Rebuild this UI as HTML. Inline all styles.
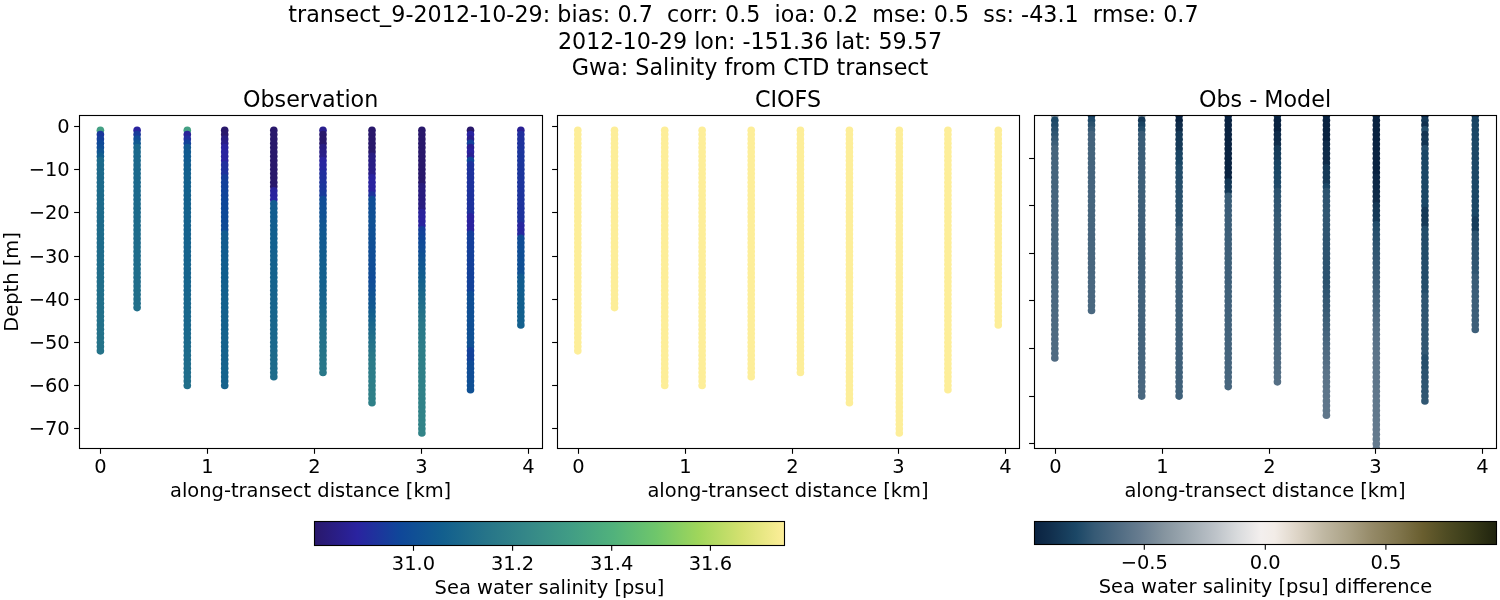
<!DOCTYPE html><html><head><meta charset="utf-8"><title>transect_9-2012-10-29</title>
<style>html,body{margin:0;padding:0;background:#fff}svg{display:block}text{font-family:"DejaVu Sans", "Liberation Sans", sans-serif;fill:#000}</style></head><body>
<svg width="1500" height="600" viewBox="0 0 1500 600">
<rect width="1500" height="600" fill="#fff"/>
<defs>
<clipPath id="c0"><rect x="79.38" y="115.45" width="462.50" height="333.00"/></clipPath>
<clipPath id="c1"><rect x="556.80" y="115.45" width="462.50" height="333.00"/></clipPath>
<clipPath id="c2"><rect x="1033.80" y="115.45" width="462.50" height="333.00"/></clipPath>
<linearGradient id="gh" x1="0" x2="1" y1="0" y2="0">
<stop offset="0.0000" stop-color="#29186b"/>
<stop offset="0.0909" stop-color="#2a23a0"/>
<stop offset="0.1818" stop-color="#0f4799"/>
<stop offset="0.2727" stop-color="#125f8e"/>
<stop offset="0.3636" stop-color="#267489"/>
<stop offset="0.4545" stop-color="#358888"/>
<stop offset="0.5455" stop-color="#419d85"/>
<stop offset="0.6364" stop-color="#51b27c"/>
<stop offset="0.7273" stop-color="#6fc66b"/>
<stop offset="0.8182" stop-color="#a0d65b"/>
<stop offset="0.9091" stop-color="#d4e170"/>
<stop offset="1.0000" stop-color="#fdee99"/>
</linearGradient>
<linearGradient id="gd" x1="0" x2="1" y1="0" y2="0">
<stop offset="0.0000" stop-color="#0a2341"/>
<stop offset="0.0300" stop-color="#102d4b"/>
<stop offset="0.0900" stop-color="#1b4766"/>
<stop offset="0.1300" stop-color="#365a75"/>
<stop offset="0.1800" stop-color="#4f6b82"/>
<stop offset="0.2300" stop-color="#687d90"/>
<stop offset="0.2800" stop-color="#85949f"/>
<stop offset="0.3350" stop-color="#a0abb3"/>
<stop offset="0.3900" stop-color="#bcc2c8"/>
<stop offset="0.4400" stop-color="#d9dbdd"/>
<stop offset="0.4900" stop-color="#f3efee"/>
<stop offset="0.5200" stop-color="#f2ece7"/>
<stop offset="0.5700" stop-color="#ddd4c6"/>
<stop offset="0.6250" stop-color="#c0b8a3"/>
<stop offset="0.6800" stop-color="#aba286"/>
<stop offset="0.7300" stop-color="#958a68"/>
<stop offset="0.7900" stop-color="#7f744b"/>
<stop offset="0.8400" stop-color="#695e2f"/>
<stop offset="0.8900" stop-color="#4f4c23"/>
<stop offset="0.9400" stop-color="#3a3c19"/>
<stop offset="1.0000" stop-color="#1f230e"/>
</linearGradient>
</defs>
<text x="743.40" y="21.90" font-size="22.22" text-anchor="middle" xml:space="preserve" textLength="910.3" lengthAdjust="spacing">transect_9-2012-10-29: bias: 0.7  corr: 0.5  ioa: 0.2  mse: 0.5  ss: -43.1  rmse: 0.7</text>
<text x="750.00" y="48.57" font-size="22.22" text-anchor="middle" xml:space="preserve">2012-10-29 lon: -151.36 lat: 59.57</text>
<text x="750.00" y="75.24" font-size="22.22" text-anchor="middle" xml:space="preserve">Gwa: Salinity from CTD transect</text>
<text x="310.63" y="106.90" font-size="22.22" text-anchor="middle">Observation</text>
<text x="788.05" y="106.90" font-size="22.22" text-anchor="middle">CIOFS</text>
<text x="1265.05" y="106.90" font-size="22.22" text-anchor="middle">Obs - Model</text>
<g clip-path="url(#c0)">
<circle cx="100.40" cy="130.29" r="3.80" fill="#44a084"/>
<circle cx="100.40" cy="134.61" r="3.80" fill="#1b369c"/>
<circle cx="100.40" cy="138.94" r="3.80" fill="#153e9b"/>
<circle cx="100.40" cy="143.26" r="3.80" fill="#0f4998"/>
<circle cx="100.40" cy="147.59" r="3.80" fill="#104e96"/>
<circle cx="100.40" cy="151.91" r="3.80" fill="#115692"/>
<circle cx="100.40" cy="156.23" r="3.80" fill="#125e8e"/>
<circle cx="100.40" cy="160.56" r="3.80" fill="#1c6a8b"/>
<circle cx="100.40" cy="164.88" r="3.80" fill="#1c6a8b"/>
<circle cx="100.40" cy="169.21" r="3.80" fill="#1d6a8b"/>
<circle cx="100.40" cy="173.53" r="3.80" fill="#1d6a8b"/>
<circle cx="100.40" cy="177.86" r="3.80" fill="#1d6a8b"/>
<circle cx="100.40" cy="182.18" r="3.80" fill="#1d6a8b"/>
<circle cx="100.40" cy="186.51" r="3.80" fill="#1d6b8b"/>
<circle cx="100.40" cy="190.83" r="3.80" fill="#1d6b8b"/>
<circle cx="100.40" cy="195.16" r="3.80" fill="#1d6b8b"/>
<circle cx="100.40" cy="199.48" r="3.80" fill="#1d6b8b"/>
<circle cx="100.40" cy="203.81" r="3.80" fill="#1d6b8b"/>
<circle cx="100.40" cy="208.13" r="3.80" fill="#1e6b8b"/>
<circle cx="100.40" cy="212.46" r="3.80" fill="#1e6b8b"/>
<circle cx="100.40" cy="216.78" r="3.80" fill="#1e6b8b"/>
<circle cx="100.40" cy="221.10" r="3.80" fill="#1e6b8b"/>
<circle cx="100.40" cy="225.43" r="3.80" fill="#1e6b8b"/>
<circle cx="100.40" cy="229.75" r="3.80" fill="#1e6c8b"/>
<circle cx="100.40" cy="234.08" r="3.80" fill="#1e6c8b"/>
<circle cx="100.40" cy="238.40" r="3.80" fill="#1e6c8b"/>
<circle cx="100.40" cy="242.73" r="3.80" fill="#1e6c8b"/>
<circle cx="100.40" cy="247.05" r="3.80" fill="#1e6c8b"/>
<circle cx="100.40" cy="251.38" r="3.80" fill="#1f6c8b"/>
<circle cx="100.40" cy="255.70" r="3.80" fill="#1f6c8b"/>
<circle cx="100.40" cy="260.03" r="3.80" fill="#1f6d8b"/>
<circle cx="100.40" cy="264.35" r="3.80" fill="#1f6d8b"/>
<circle cx="100.40" cy="268.68" r="3.80" fill="#206d8b"/>
<circle cx="100.40" cy="273.00" r="3.80" fill="#206d8b"/>
<circle cx="100.40" cy="277.33" r="3.80" fill="#206e8a"/>
<circle cx="100.40" cy="281.65" r="3.80" fill="#206e8a"/>
<circle cx="100.40" cy="285.97" r="3.80" fill="#216e8a"/>
<circle cx="100.40" cy="290.30" r="3.80" fill="#216f8a"/>
<circle cx="100.40" cy="294.62" r="3.80" fill="#216f8a"/>
<circle cx="100.40" cy="298.95" r="3.80" fill="#226f8a"/>
<circle cx="100.40" cy="303.27" r="3.80" fill="#22708a"/>
<circle cx="100.40" cy="307.60" r="3.80" fill="#22708a"/>
<circle cx="100.40" cy="311.92" r="3.80" fill="#22708a"/>
<circle cx="100.40" cy="316.25" r="3.80" fill="#23718a"/>
<circle cx="100.40" cy="320.57" r="3.80" fill="#23718a"/>
<circle cx="100.40" cy="324.90" r="3.80" fill="#23718a"/>
<circle cx="100.40" cy="329.22" r="3.80" fill="#24728a"/>
<circle cx="100.40" cy="333.55" r="3.80" fill="#24728a"/>
<circle cx="100.40" cy="337.87" r="3.80" fill="#247289"/>
<circle cx="100.40" cy="342.20" r="3.80" fill="#257389"/>
<circle cx="100.40" cy="346.52" r="3.80" fill="#257389"/>
<circle cx="100.40" cy="350.84" r="3.80" fill="#257389"/>
<circle cx="137.10" cy="130.29" r="3.80" fill="#2a239f"/>
<circle cx="137.10" cy="134.61" r="3.80" fill="#183a9b"/>
<circle cx="137.10" cy="138.94" r="3.80" fill="#104c97"/>
<circle cx="137.10" cy="143.26" r="3.80" fill="#115991"/>
<circle cx="137.10" cy="147.59" r="3.80" fill="#1a688c"/>
<circle cx="137.10" cy="151.91" r="3.80" fill="#1a688c"/>
<circle cx="137.10" cy="156.23" r="3.80" fill="#1a688c"/>
<circle cx="137.10" cy="160.56" r="3.80" fill="#1b688c"/>
<circle cx="137.10" cy="164.88" r="3.80" fill="#1b688c"/>
<circle cx="137.10" cy="169.21" r="3.80" fill="#1b688c"/>
<circle cx="137.10" cy="173.53" r="3.80" fill="#1b698c"/>
<circle cx="137.10" cy="177.86" r="3.80" fill="#1b698c"/>
<circle cx="137.10" cy="182.18" r="3.80" fill="#1b698c"/>
<circle cx="137.10" cy="186.51" r="3.80" fill="#1c698c"/>
<circle cx="137.10" cy="190.83" r="3.80" fill="#1c698c"/>
<circle cx="137.10" cy="195.16" r="3.80" fill="#1c698c"/>
<circle cx="137.10" cy="199.48" r="3.80" fill="#1c698c"/>
<circle cx="137.10" cy="203.81" r="3.80" fill="#1c6a8b"/>
<circle cx="137.10" cy="208.13" r="3.80" fill="#1c6a8b"/>
<circle cx="137.10" cy="212.46" r="3.80" fill="#1c6a8b"/>
<circle cx="137.10" cy="216.78" r="3.80" fill="#1d6a8b"/>
<circle cx="137.10" cy="221.10" r="3.80" fill="#1d6a8b"/>
<circle cx="137.10" cy="225.43" r="3.80" fill="#1d6b8b"/>
<circle cx="137.10" cy="229.75" r="3.80" fill="#1d6b8b"/>
<circle cx="137.10" cy="234.08" r="3.80" fill="#1d6b8b"/>
<circle cx="137.10" cy="238.40" r="3.80" fill="#1e6b8b"/>
<circle cx="137.10" cy="242.73" r="3.80" fill="#1e6b8b"/>
<circle cx="137.10" cy="247.05" r="3.80" fill="#1e6c8b"/>
<circle cx="137.10" cy="251.38" r="3.80" fill="#1e6c8b"/>
<circle cx="137.10" cy="255.70" r="3.80" fill="#1e6c8b"/>
<circle cx="137.10" cy="260.03" r="3.80" fill="#1f6c8b"/>
<circle cx="137.10" cy="264.35" r="3.80" fill="#1f6c8b"/>
<circle cx="137.10" cy="268.68" r="3.80" fill="#1f6d8b"/>
<circle cx="137.10" cy="273.00" r="3.80" fill="#1f6d8b"/>
<circle cx="137.10" cy="277.33" r="3.80" fill="#1f6d8b"/>
<circle cx="137.10" cy="281.65" r="3.80" fill="#206d8b"/>
<circle cx="137.10" cy="285.97" r="3.80" fill="#206d8b"/>
<circle cx="137.10" cy="290.30" r="3.80" fill="#206e8a"/>
<circle cx="137.10" cy="294.62" r="3.80" fill="#206e8a"/>
<circle cx="137.10" cy="298.95" r="3.80" fill="#206e8a"/>
<circle cx="137.10" cy="303.27" r="3.80" fill="#216e8a"/>
<circle cx="137.10" cy="307.60" r="3.80" fill="#216f8a"/>
<circle cx="187.30" cy="130.29" r="3.80" fill="#44a084"/>
<circle cx="187.30" cy="134.61" r="3.80" fill="#2a229a"/>
<circle cx="187.30" cy="138.94" r="3.80" fill="#212f9e"/>
<circle cx="187.30" cy="143.26" r="3.80" fill="#13429a"/>
<circle cx="187.30" cy="147.59" r="3.80" fill="#115991"/>
<circle cx="187.30" cy="151.91" r="3.80" fill="#115a90"/>
<circle cx="187.30" cy="156.23" r="3.80" fill="#115b90"/>
<circle cx="187.30" cy="160.56" r="3.80" fill="#125c90"/>
<circle cx="187.30" cy="164.88" r="3.80" fill="#125d8f"/>
<circle cx="187.30" cy="169.21" r="3.80" fill="#125e8e"/>
<circle cx="187.30" cy="173.53" r="3.80" fill="#13608e"/>
<circle cx="187.30" cy="177.86" r="3.80" fill="#14618e"/>
<circle cx="187.30" cy="182.18" r="3.80" fill="#14618e"/>
<circle cx="187.30" cy="186.51" r="3.80" fill="#14618e"/>
<circle cx="187.30" cy="190.83" r="3.80" fill="#14618e"/>
<circle cx="187.30" cy="195.16" r="3.80" fill="#14618d"/>
<circle cx="187.30" cy="199.48" r="3.80" fill="#14618d"/>
<circle cx="187.30" cy="203.81" r="3.80" fill="#14618d"/>
<circle cx="187.30" cy="208.13" r="3.80" fill="#14628d"/>
<circle cx="187.30" cy="212.46" r="3.80" fill="#15628d"/>
<circle cx="187.30" cy="216.78" r="3.80" fill="#15628d"/>
<circle cx="187.30" cy="221.10" r="3.80" fill="#15628d"/>
<circle cx="187.30" cy="225.43" r="3.80" fill="#15628d"/>
<circle cx="187.30" cy="229.75" r="3.80" fill="#15628d"/>
<circle cx="187.30" cy="234.08" r="3.80" fill="#15628d"/>
<circle cx="187.30" cy="238.40" r="3.80" fill="#15628d"/>
<circle cx="187.30" cy="242.73" r="3.80" fill="#15638d"/>
<circle cx="187.30" cy="247.05" r="3.80" fill="#16638d"/>
<circle cx="187.30" cy="251.38" r="3.80" fill="#16638d"/>
<circle cx="187.30" cy="255.70" r="3.80" fill="#16638d"/>
<circle cx="187.30" cy="260.03" r="3.80" fill="#16638d"/>
<circle cx="187.30" cy="264.35" r="3.80" fill="#16648d"/>
<circle cx="187.30" cy="268.68" r="3.80" fill="#17648d"/>
<circle cx="187.30" cy="273.00" r="3.80" fill="#17648d"/>
<circle cx="187.30" cy="277.33" r="3.80" fill="#17648d"/>
<circle cx="187.30" cy="281.65" r="3.80" fill="#17658d"/>
<circle cx="187.30" cy="285.97" r="3.80" fill="#18658d"/>
<circle cx="187.30" cy="290.30" r="3.80" fill="#18658d"/>
<circle cx="187.30" cy="294.62" r="3.80" fill="#18658c"/>
<circle cx="187.30" cy="298.95" r="3.80" fill="#18668c"/>
<circle cx="187.30" cy="303.27" r="3.80" fill="#19668c"/>
<circle cx="187.30" cy="307.60" r="3.80" fill="#19668c"/>
<circle cx="187.30" cy="311.92" r="3.80" fill="#19678c"/>
<circle cx="187.30" cy="316.25" r="3.80" fill="#19678c"/>
<circle cx="187.30" cy="320.57" r="3.80" fill="#1a678c"/>
<circle cx="187.30" cy="324.90" r="3.80" fill="#1a678c"/>
<circle cx="187.30" cy="329.22" r="3.80" fill="#1a688c"/>
<circle cx="187.30" cy="333.55" r="3.80" fill="#1b688c"/>
<circle cx="187.30" cy="337.87" r="3.80" fill="#1b698c"/>
<circle cx="187.30" cy="342.20" r="3.80" fill="#1c698c"/>
<circle cx="187.30" cy="346.52" r="3.80" fill="#1c6a8b"/>
<circle cx="187.30" cy="350.84" r="3.80" fill="#1d6a8b"/>
<circle cx="187.30" cy="355.17" r="3.80" fill="#1d6b8b"/>
<circle cx="187.30" cy="359.49" r="3.80" fill="#1e6b8b"/>
<circle cx="187.30" cy="363.82" r="3.80" fill="#1e6c8b"/>
<circle cx="187.30" cy="368.14" r="3.80" fill="#1f6c8b"/>
<circle cx="187.30" cy="372.47" r="3.80" fill="#1f6d8b"/>
<circle cx="187.30" cy="376.79" r="3.80" fill="#206d8b"/>
<circle cx="187.30" cy="381.12" r="3.80" fill="#206e8a"/>
<circle cx="187.30" cy="385.44" r="3.80" fill="#216f8a"/>
<circle cx="224.70" cy="130.29" r="3.80" fill="#29186b"/>
<circle cx="224.70" cy="134.61" r="3.80" fill="#29186b"/>
<circle cx="224.70" cy="138.94" r="3.80" fill="#291d82"/>
<circle cx="224.70" cy="143.26" r="3.80" fill="#2a1e88"/>
<circle cx="224.70" cy="147.59" r="3.80" fill="#2a239f"/>
<circle cx="224.70" cy="151.91" r="3.80" fill="#2a239f"/>
<circle cx="224.70" cy="156.23" r="3.80" fill="#2a239f"/>
<circle cx="224.70" cy="160.56" r="3.80" fill="#2a239f"/>
<circle cx="224.70" cy="164.88" r="3.80" fill="#212f9e"/>
<circle cx="224.70" cy="169.21" r="3.80" fill="#20309d"/>
<circle cx="224.70" cy="173.53" r="3.80" fill="#1e329d"/>
<circle cx="224.70" cy="177.86" r="3.80" fill="#153e9b"/>
<circle cx="224.70" cy="182.18" r="3.80" fill="#14409a"/>
<circle cx="224.70" cy="186.51" r="3.80" fill="#13419a"/>
<circle cx="224.70" cy="190.83" r="3.80" fill="#12439a"/>
<circle cx="224.70" cy="195.16" r="3.80" fill="#11449a"/>
<circle cx="224.70" cy="199.48" r="3.80" fill="#104699"/>
<circle cx="224.70" cy="203.81" r="3.80" fill="#0f4799"/>
<circle cx="224.70" cy="208.13" r="3.80" fill="#0f4898"/>
<circle cx="224.70" cy="212.46" r="3.80" fill="#0f4998"/>
<circle cx="224.70" cy="216.78" r="3.80" fill="#0f4a98"/>
<circle cx="224.70" cy="221.10" r="3.80" fill="#0f4a97"/>
<circle cx="224.70" cy="225.43" r="3.80" fill="#104b97"/>
<circle cx="224.70" cy="229.75" r="3.80" fill="#104c97"/>
<circle cx="224.70" cy="234.08" r="3.80" fill="#125c90"/>
<circle cx="224.70" cy="238.40" r="3.80" fill="#125c8f"/>
<circle cx="224.70" cy="242.73" r="3.80" fill="#125c8f"/>
<circle cx="224.70" cy="247.05" r="3.80" fill="#125d8f"/>
<circle cx="224.70" cy="251.38" r="3.80" fill="#125d8f"/>
<circle cx="224.70" cy="255.70" r="3.80" fill="#125d8f"/>
<circle cx="224.70" cy="260.03" r="3.80" fill="#125e8f"/>
<circle cx="224.70" cy="264.35" r="3.80" fill="#125e8e"/>
<circle cx="224.70" cy="268.68" r="3.80" fill="#125e8e"/>
<circle cx="224.70" cy="273.00" r="3.80" fill="#125f8e"/>
<circle cx="224.70" cy="277.33" r="3.80" fill="#125f8e"/>
<circle cx="224.70" cy="281.65" r="3.80" fill="#125f8e"/>
<circle cx="224.70" cy="285.97" r="3.80" fill="#13608e"/>
<circle cx="224.70" cy="290.30" r="3.80" fill="#13608e"/>
<circle cx="224.70" cy="294.62" r="3.80" fill="#13608e"/>
<circle cx="224.70" cy="298.95" r="3.80" fill="#14618e"/>
<circle cx="224.70" cy="303.27" r="3.80" fill="#14618e"/>
<circle cx="224.70" cy="307.60" r="3.80" fill="#14618e"/>
<circle cx="224.70" cy="311.92" r="3.80" fill="#14618e"/>
<circle cx="224.70" cy="316.25" r="3.80" fill="#14618d"/>
<circle cx="224.70" cy="320.57" r="3.80" fill="#14618d"/>
<circle cx="224.70" cy="324.90" r="3.80" fill="#14618d"/>
<circle cx="224.70" cy="329.22" r="3.80" fill="#14618d"/>
<circle cx="224.70" cy="333.55" r="3.80" fill="#14628d"/>
<circle cx="224.70" cy="337.87" r="3.80" fill="#15628d"/>
<circle cx="224.70" cy="342.20" r="3.80" fill="#15628d"/>
<circle cx="224.70" cy="346.52" r="3.80" fill="#15628d"/>
<circle cx="224.70" cy="350.84" r="3.80" fill="#15628d"/>
<circle cx="224.70" cy="355.17" r="3.80" fill="#15628d"/>
<circle cx="224.70" cy="359.49" r="3.80" fill="#15628d"/>
<circle cx="224.70" cy="363.82" r="3.80" fill="#15628d"/>
<circle cx="224.70" cy="368.14" r="3.80" fill="#15638d"/>
<circle cx="224.70" cy="372.47" r="3.80" fill="#15638d"/>
<circle cx="224.70" cy="376.79" r="3.80" fill="#16638d"/>
<circle cx="224.70" cy="381.12" r="3.80" fill="#16638d"/>
<circle cx="224.70" cy="385.44" r="3.80" fill="#16638d"/>
<circle cx="273.80" cy="130.29" r="3.80" fill="#29186b"/>
<circle cx="273.80" cy="134.61" r="3.80" fill="#29186b"/>
<circle cx="273.80" cy="138.94" r="3.80" fill="#29186b"/>
<circle cx="273.80" cy="143.26" r="3.80" fill="#29186b"/>
<circle cx="273.80" cy="147.59" r="3.80" fill="#29186b"/>
<circle cx="273.80" cy="151.91" r="3.80" fill="#29186b"/>
<circle cx="273.80" cy="156.23" r="3.80" fill="#29186b"/>
<circle cx="273.80" cy="160.56" r="3.80" fill="#29186b"/>
<circle cx="273.80" cy="164.88" r="3.80" fill="#29186b"/>
<circle cx="273.80" cy="169.21" r="3.80" fill="#29186b"/>
<circle cx="273.80" cy="173.53" r="3.80" fill="#29186b"/>
<circle cx="273.80" cy="177.86" r="3.80" fill="#29186b"/>
<circle cx="273.80" cy="182.18" r="3.80" fill="#29186b"/>
<circle cx="273.80" cy="186.51" r="3.80" fill="#29186b"/>
<circle cx="273.80" cy="190.83" r="3.80" fill="#2a229a"/>
<circle cx="273.80" cy="195.16" r="3.80" fill="#2a229d"/>
<circle cx="273.80" cy="199.48" r="3.80" fill="#2a239f"/>
<circle cx="273.80" cy="203.81" r="3.80" fill="#125c90"/>
<circle cx="273.80" cy="208.13" r="3.80" fill="#125c8f"/>
<circle cx="273.80" cy="212.46" r="3.80" fill="#125d8f"/>
<circle cx="273.80" cy="216.78" r="3.80" fill="#125d8f"/>
<circle cx="273.80" cy="221.10" r="3.80" fill="#125d8f"/>
<circle cx="273.80" cy="225.43" r="3.80" fill="#125e8f"/>
<circle cx="273.80" cy="229.75" r="3.80" fill="#125e8e"/>
<circle cx="273.80" cy="234.08" r="3.80" fill="#125f8e"/>
<circle cx="273.80" cy="238.40" r="3.80" fill="#125f8e"/>
<circle cx="273.80" cy="242.73" r="3.80" fill="#13608e"/>
<circle cx="273.80" cy="247.05" r="3.80" fill="#13608e"/>
<circle cx="273.80" cy="251.38" r="3.80" fill="#13608e"/>
<circle cx="273.80" cy="255.70" r="3.80" fill="#14618e"/>
<circle cx="273.80" cy="260.03" r="3.80" fill="#14618e"/>
<circle cx="273.80" cy="264.35" r="3.80" fill="#14618d"/>
<circle cx="273.80" cy="268.68" r="3.80" fill="#14628d"/>
<circle cx="273.80" cy="273.00" r="3.80" fill="#15628d"/>
<circle cx="273.80" cy="277.33" r="3.80" fill="#15628d"/>
<circle cx="273.80" cy="281.65" r="3.80" fill="#15638d"/>
<circle cx="273.80" cy="285.97" r="3.80" fill="#16638d"/>
<circle cx="273.80" cy="290.30" r="3.80" fill="#16638d"/>
<circle cx="273.80" cy="294.62" r="3.80" fill="#16638d"/>
<circle cx="273.80" cy="298.95" r="3.80" fill="#17648d"/>
<circle cx="273.80" cy="303.27" r="3.80" fill="#17648d"/>
<circle cx="273.80" cy="307.60" r="3.80" fill="#17648d"/>
<circle cx="273.80" cy="311.92" r="3.80" fill="#17658d"/>
<circle cx="273.80" cy="316.25" r="3.80" fill="#18658d"/>
<circle cx="273.80" cy="320.57" r="3.80" fill="#18658c"/>
<circle cx="273.80" cy="324.90" r="3.80" fill="#19668c"/>
<circle cx="273.80" cy="329.22" r="3.80" fill="#19668c"/>
<circle cx="273.80" cy="333.55" r="3.80" fill="#1a678c"/>
<circle cx="273.80" cy="337.87" r="3.80" fill="#1a678c"/>
<circle cx="273.80" cy="342.20" r="3.80" fill="#1b688c"/>
<circle cx="273.80" cy="346.52" r="3.80" fill="#1b688c"/>
<circle cx="273.80" cy="350.84" r="3.80" fill="#1c698c"/>
<circle cx="273.80" cy="355.17" r="3.80" fill="#1c6a8b"/>
<circle cx="273.80" cy="359.49" r="3.80" fill="#1d6a8b"/>
<circle cx="273.80" cy="363.82" r="3.80" fill="#1d6b8b"/>
<circle cx="273.80" cy="368.14" r="3.80" fill="#1e6b8b"/>
<circle cx="273.80" cy="372.47" r="3.80" fill="#1e6c8b"/>
<circle cx="273.80" cy="376.79" r="3.80" fill="#1f6c8b"/>
<circle cx="323.00" cy="130.29" r="3.80" fill="#2a1f8e"/>
<circle cx="323.00" cy="134.61" r="3.80" fill="#29186b"/>
<circle cx="323.00" cy="138.94" r="3.80" fill="#29186b"/>
<circle cx="323.00" cy="143.26" r="3.80" fill="#29186b"/>
<circle cx="323.00" cy="147.59" r="3.80" fill="#291d82"/>
<circle cx="323.00" cy="151.91" r="3.80" fill="#291d85"/>
<circle cx="323.00" cy="156.23" r="3.80" fill="#2a1e88"/>
<circle cx="323.00" cy="160.56" r="3.80" fill="#2a239f"/>
<circle cx="323.00" cy="164.88" r="3.80" fill="#2925a0"/>
<circle cx="323.00" cy="169.21" r="3.80" fill="#27279f"/>
<circle cx="323.00" cy="173.53" r="3.80" fill="#212f9e"/>
<circle cx="323.00" cy="177.86" r="3.80" fill="#20319d"/>
<circle cx="323.00" cy="182.18" r="3.80" fill="#1e339d"/>
<circle cx="323.00" cy="186.51" r="3.80" fill="#1c369c"/>
<circle cx="323.00" cy="190.83" r="3.80" fill="#1a389c"/>
<circle cx="323.00" cy="195.16" r="3.80" fill="#183a9b"/>
<circle cx="323.00" cy="199.48" r="3.80" fill="#104c97"/>
<circle cx="323.00" cy="203.81" r="3.80" fill="#104d96"/>
<circle cx="323.00" cy="208.13" r="3.80" fill="#104f95"/>
<circle cx="323.00" cy="212.46" r="3.80" fill="#105195"/>
<circle cx="323.00" cy="216.78" r="3.80" fill="#105294"/>
<circle cx="323.00" cy="221.10" r="3.80" fill="#115493"/>
<circle cx="323.00" cy="225.43" r="3.80" fill="#115692"/>
<circle cx="323.00" cy="229.75" r="3.80" fill="#115792"/>
<circle cx="323.00" cy="234.08" r="3.80" fill="#115991"/>
<circle cx="323.00" cy="238.40" r="3.80" fill="#115a90"/>
<circle cx="323.00" cy="242.73" r="3.80" fill="#115a90"/>
<circle cx="323.00" cy="247.05" r="3.80" fill="#125b90"/>
<circle cx="323.00" cy="251.38" r="3.80" fill="#125c8f"/>
<circle cx="323.00" cy="255.70" r="3.80" fill="#125d8f"/>
<circle cx="323.00" cy="260.03" r="3.80" fill="#125d8f"/>
<circle cx="323.00" cy="264.35" r="3.80" fill="#125e8e"/>
<circle cx="323.00" cy="268.68" r="3.80" fill="#125f8e"/>
<circle cx="323.00" cy="273.00" r="3.80" fill="#125f8e"/>
<circle cx="323.00" cy="277.33" r="3.80" fill="#13608e"/>
<circle cx="323.00" cy="281.65" r="3.80" fill="#13618e"/>
<circle cx="323.00" cy="285.97" r="3.80" fill="#14618d"/>
<circle cx="323.00" cy="290.30" r="3.80" fill="#15628d"/>
<circle cx="323.00" cy="294.62" r="3.80" fill="#15628d"/>
<circle cx="323.00" cy="298.95" r="3.80" fill="#16638d"/>
<circle cx="323.00" cy="303.27" r="3.80" fill="#18658d"/>
<circle cx="323.00" cy="307.60" r="3.80" fill="#19678c"/>
<circle cx="323.00" cy="311.92" r="3.80" fill="#1b698c"/>
<circle cx="323.00" cy="316.25" r="3.80" fill="#1d6a8b"/>
<circle cx="323.00" cy="320.57" r="3.80" fill="#1f6c8b"/>
<circle cx="323.00" cy="324.90" r="3.80" fill="#206d8b"/>
<circle cx="323.00" cy="329.22" r="3.80" fill="#206e8a"/>
<circle cx="323.00" cy="333.55" r="3.80" fill="#216f8a"/>
<circle cx="323.00" cy="337.87" r="3.80" fill="#22708a"/>
<circle cx="323.00" cy="342.20" r="3.80" fill="#23718a"/>
<circle cx="323.00" cy="346.52" r="3.80" fill="#247289"/>
<circle cx="323.00" cy="350.84" r="3.80" fill="#257389"/>
<circle cx="323.00" cy="355.17" r="3.80" fill="#267489"/>
<circle cx="323.00" cy="359.49" r="3.80" fill="#277589"/>
<circle cx="323.00" cy="363.82" r="3.80" fill="#277689"/>
<circle cx="323.00" cy="368.14" r="3.80" fill="#287789"/>
<circle cx="323.00" cy="372.47" r="3.80" fill="#297889"/>
<circle cx="372.00" cy="130.29" r="3.80" fill="#29186b"/>
<circle cx="372.00" cy="134.61" r="3.80" fill="#29186b"/>
<circle cx="372.00" cy="138.94" r="3.80" fill="#29186b"/>
<circle cx="372.00" cy="143.26" r="3.80" fill="#29186b"/>
<circle cx="372.00" cy="147.59" r="3.80" fill="#29186b"/>
<circle cx="372.00" cy="151.91" r="3.80" fill="#29186b"/>
<circle cx="372.00" cy="156.23" r="3.80" fill="#291d82"/>
<circle cx="372.00" cy="160.56" r="3.80" fill="#291d84"/>
<circle cx="372.00" cy="164.88" r="3.80" fill="#291d85"/>
<circle cx="372.00" cy="169.21" r="3.80" fill="#2a1e87"/>
<circle cx="372.00" cy="173.53" r="3.80" fill="#2a1e88"/>
<circle cx="372.00" cy="177.86" r="3.80" fill="#2a239f"/>
<circle cx="372.00" cy="182.18" r="3.80" fill="#2a239f"/>
<circle cx="372.00" cy="186.51" r="3.80" fill="#2a239f"/>
<circle cx="372.00" cy="190.83" r="3.80" fill="#2a239f"/>
<circle cx="372.00" cy="195.16" r="3.80" fill="#1e329d"/>
<circle cx="372.00" cy="199.48" r="3.80" fill="#104c97"/>
<circle cx="372.00" cy="203.81" r="3.80" fill="#104d96"/>
<circle cx="372.00" cy="208.13" r="3.80" fill="#104e96"/>
<circle cx="372.00" cy="212.46" r="3.80" fill="#104f95"/>
<circle cx="372.00" cy="216.78" r="3.80" fill="#105095"/>
<circle cx="372.00" cy="221.10" r="3.80" fill="#105194"/>
<circle cx="372.00" cy="225.43" r="3.80" fill="#105195"/>
<circle cx="372.00" cy="229.75" r="3.80" fill="#105095"/>
<circle cx="372.00" cy="234.08" r="3.80" fill="#105095"/>
<circle cx="372.00" cy="238.40" r="3.80" fill="#105095"/>
<circle cx="372.00" cy="242.73" r="3.80" fill="#104f95"/>
<circle cx="372.00" cy="247.05" r="3.80" fill="#104f95"/>
<circle cx="372.00" cy="251.38" r="3.80" fill="#104e96"/>
<circle cx="372.00" cy="255.70" r="3.80" fill="#104e96"/>
<circle cx="372.00" cy="260.03" r="3.80" fill="#104e96"/>
<circle cx="372.00" cy="264.35" r="3.80" fill="#104d96"/>
<circle cx="372.00" cy="268.68" r="3.80" fill="#104d96"/>
<circle cx="372.00" cy="273.00" r="3.80" fill="#104d96"/>
<circle cx="372.00" cy="277.33" r="3.80" fill="#104c97"/>
<circle cx="372.00" cy="281.65" r="3.80" fill="#104c97"/>
<circle cx="372.00" cy="285.97" r="3.80" fill="#104e96"/>
<circle cx="372.00" cy="290.30" r="3.80" fill="#105095"/>
<circle cx="372.00" cy="294.62" r="3.80" fill="#105294"/>
<circle cx="372.00" cy="298.95" r="3.80" fill="#115593"/>
<circle cx="372.00" cy="303.27" r="3.80" fill="#115792"/>
<circle cx="372.00" cy="307.60" r="3.80" fill="#115991"/>
<circle cx="372.00" cy="311.92" r="3.80" fill="#125d8f"/>
<circle cx="372.00" cy="316.25" r="3.80" fill="#13608e"/>
<circle cx="372.00" cy="320.57" r="3.80" fill="#16638d"/>
<circle cx="372.00" cy="324.90" r="3.80" fill="#19668c"/>
<circle cx="372.00" cy="329.22" r="3.80" fill="#1c698c"/>
<circle cx="372.00" cy="333.55" r="3.80" fill="#1f6c8b"/>
<circle cx="372.00" cy="337.87" r="3.80" fill="#216f8a"/>
<circle cx="372.00" cy="342.20" r="3.80" fill="#23718a"/>
<circle cx="372.00" cy="346.52" r="3.80" fill="#257389"/>
<circle cx="372.00" cy="350.84" r="3.80" fill="#277589"/>
<circle cx="372.00" cy="355.17" r="3.80" fill="#297889"/>
<circle cx="372.00" cy="359.49" r="3.80" fill="#2a7a89"/>
<circle cx="372.00" cy="363.82" r="3.80" fill="#2c7c89"/>
<circle cx="372.00" cy="368.14" r="3.80" fill="#2c7c89"/>
<circle cx="372.00" cy="372.47" r="3.80" fill="#2d7d89"/>
<circle cx="372.00" cy="376.79" r="3.80" fill="#2d7d89"/>
<circle cx="372.00" cy="381.12" r="3.80" fill="#2d7e89"/>
<circle cx="372.00" cy="385.44" r="3.80" fill="#2e7e88"/>
<circle cx="372.00" cy="389.77" r="3.80" fill="#2e7f88"/>
<circle cx="372.00" cy="394.09" r="3.80" fill="#2f7f88"/>
<circle cx="372.00" cy="398.42" r="3.80" fill="#2f8088"/>
<circle cx="372.00" cy="402.74" r="3.80" fill="#2f8088"/>
<circle cx="421.89" cy="130.29" r="3.80" fill="#29186b"/>
<circle cx="421.89" cy="134.61" r="3.80" fill="#29186b"/>
<circle cx="421.89" cy="138.94" r="3.80" fill="#29186b"/>
<circle cx="421.89" cy="143.26" r="3.80" fill="#29186b"/>
<circle cx="421.89" cy="147.59" r="3.80" fill="#29186b"/>
<circle cx="421.89" cy="151.91" r="3.80" fill="#29186b"/>
<circle cx="421.89" cy="156.23" r="3.80" fill="#29186b"/>
<circle cx="421.89" cy="160.56" r="3.80" fill="#29186b"/>
<circle cx="421.89" cy="164.88" r="3.80" fill="#29186b"/>
<circle cx="421.89" cy="169.21" r="3.80" fill="#29186b"/>
<circle cx="421.89" cy="173.53" r="3.80" fill="#29186b"/>
<circle cx="421.89" cy="177.86" r="3.80" fill="#29186b"/>
<circle cx="421.89" cy="182.18" r="3.80" fill="#29186b"/>
<circle cx="421.89" cy="186.51" r="3.80" fill="#291c7c"/>
<circle cx="421.89" cy="190.83" r="3.80" fill="#291c7e"/>
<circle cx="421.89" cy="195.16" r="3.80" fill="#291c7f"/>
<circle cx="421.89" cy="199.48" r="3.80" fill="#291c80"/>
<circle cx="421.89" cy="203.81" r="3.80" fill="#291d81"/>
<circle cx="421.89" cy="208.13" r="3.80" fill="#291d82"/>
<circle cx="421.89" cy="212.46" r="3.80" fill="#2a229a"/>
<circle cx="421.89" cy="216.78" r="3.80" fill="#2a229c"/>
<circle cx="421.89" cy="221.10" r="3.80" fill="#2a229e"/>
<circle cx="421.89" cy="225.43" r="3.80" fill="#2a239f"/>
<circle cx="421.89" cy="229.75" r="3.80" fill="#153e9b"/>
<circle cx="421.89" cy="234.08" r="3.80" fill="#13429a"/>
<circle cx="421.89" cy="238.40" r="3.80" fill="#104699"/>
<circle cx="421.89" cy="242.73" r="3.80" fill="#0f4998"/>
<circle cx="421.89" cy="247.05" r="3.80" fill="#104c97"/>
<circle cx="421.89" cy="251.38" r="3.80" fill="#104e96"/>
<circle cx="421.89" cy="255.70" r="3.80" fill="#105194"/>
<circle cx="421.89" cy="260.03" r="3.80" fill="#115493"/>
<circle cx="421.89" cy="264.35" r="3.80" fill="#115692"/>
<circle cx="421.89" cy="268.68" r="3.80" fill="#115991"/>
<circle cx="421.89" cy="273.00" r="3.80" fill="#125c90"/>
<circle cx="421.89" cy="277.33" r="3.80" fill="#125e8e"/>
<circle cx="421.89" cy="281.65" r="3.80" fill="#14618e"/>
<circle cx="421.89" cy="285.97" r="3.80" fill="#16638d"/>
<circle cx="421.89" cy="290.30" r="3.80" fill="#18658c"/>
<circle cx="421.89" cy="294.62" r="3.80" fill="#1a688c"/>
<circle cx="421.89" cy="298.95" r="3.80" fill="#1c6a8b"/>
<circle cx="421.89" cy="303.27" r="3.80" fill="#1f6c8b"/>
<circle cx="421.89" cy="307.60" r="3.80" fill="#216f8a"/>
<circle cx="421.89" cy="311.92" r="3.80" fill="#23718a"/>
<circle cx="421.89" cy="316.25" r="3.80" fill="#257389"/>
<circle cx="421.89" cy="320.57" r="3.80" fill="#277589"/>
<circle cx="421.89" cy="324.90" r="3.80" fill="#297889"/>
<circle cx="421.89" cy="329.22" r="3.80" fill="#2a7989"/>
<circle cx="421.89" cy="333.55" r="3.80" fill="#2a7a89"/>
<circle cx="421.89" cy="337.87" r="3.80" fill="#2b7b89"/>
<circle cx="421.89" cy="342.20" r="3.80" fill="#2c7c89"/>
<circle cx="421.89" cy="346.52" r="3.80" fill="#2d7d89"/>
<circle cx="421.89" cy="350.84" r="3.80" fill="#2e7e88"/>
<circle cx="421.89" cy="355.17" r="3.80" fill="#2e7e88"/>
<circle cx="421.89" cy="359.49" r="3.80" fill="#2e7f88"/>
<circle cx="421.89" cy="363.82" r="3.80" fill="#2e7f88"/>
<circle cx="421.89" cy="368.14" r="3.80" fill="#2f7f88"/>
<circle cx="421.89" cy="372.47" r="3.80" fill="#2f8088"/>
<circle cx="421.89" cy="376.79" r="3.80" fill="#2f8088"/>
<circle cx="421.89" cy="381.12" r="3.80" fill="#2f8088"/>
<circle cx="421.89" cy="385.44" r="3.80" fill="#2f8188"/>
<circle cx="421.89" cy="389.77" r="3.80" fill="#308188"/>
<circle cx="421.89" cy="394.09" r="3.80" fill="#308188"/>
<circle cx="421.89" cy="398.42" r="3.80" fill="#308188"/>
<circle cx="421.89" cy="402.74" r="3.80" fill="#308288"/>
<circle cx="421.89" cy="407.07" r="3.80" fill="#308288"/>
<circle cx="421.89" cy="411.39" r="3.80" fill="#318288"/>
<circle cx="421.89" cy="415.71" r="3.80" fill="#318388"/>
<circle cx="421.89" cy="420.04" r="3.80" fill="#318388"/>
<circle cx="421.89" cy="424.36" r="3.80" fill="#318388"/>
<circle cx="421.89" cy="428.69" r="3.80" fill="#328388"/>
<circle cx="421.89" cy="433.01" r="3.80" fill="#328488"/>
<circle cx="470.50" cy="130.29" r="3.80" fill="#29186b"/>
<circle cx="470.50" cy="134.61" r="3.80" fill="#2a239f"/>
<circle cx="470.50" cy="138.94" r="3.80" fill="#2a1f8e"/>
<circle cx="470.50" cy="143.26" r="3.80" fill="#13429a"/>
<circle cx="470.50" cy="147.59" r="3.80" fill="#2a2094"/>
<circle cx="470.50" cy="151.91" r="3.80" fill="#2a239f"/>
<circle cx="470.50" cy="156.23" r="3.80" fill="#2a2094"/>
<circle cx="470.50" cy="160.56" r="3.80" fill="#104699"/>
<circle cx="470.50" cy="164.88" r="3.80" fill="#1e329d"/>
<circle cx="470.50" cy="169.21" r="3.80" fill="#1e329d"/>
<circle cx="470.50" cy="173.53" r="3.80" fill="#1e329d"/>
<circle cx="470.50" cy="177.86" r="3.80" fill="#1e329d"/>
<circle cx="470.50" cy="182.18" r="3.80" fill="#1e329d"/>
<circle cx="470.50" cy="186.51" r="3.80" fill="#1e329d"/>
<circle cx="470.50" cy="190.83" r="3.80" fill="#1e329d"/>
<circle cx="470.50" cy="195.16" r="3.80" fill="#1e329d"/>
<circle cx="470.50" cy="199.48" r="3.80" fill="#1e329d"/>
<circle cx="470.50" cy="203.81" r="3.80" fill="#1e329d"/>
<circle cx="470.50" cy="208.13" r="3.80" fill="#1e329d"/>
<circle cx="470.50" cy="212.46" r="3.80" fill="#1e329d"/>
<circle cx="470.50" cy="216.78" r="3.80" fill="#2a239f"/>
<circle cx="470.50" cy="221.10" r="3.80" fill="#2a239f"/>
<circle cx="470.50" cy="225.43" r="3.80" fill="#2a239f"/>
<circle cx="470.50" cy="229.75" r="3.80" fill="#2a239f"/>
<circle cx="470.50" cy="234.08" r="3.80" fill="#153e9b"/>
<circle cx="470.50" cy="238.40" r="3.80" fill="#153f9b"/>
<circle cx="470.50" cy="242.73" r="3.80" fill="#153f9b"/>
<circle cx="470.50" cy="247.05" r="3.80" fill="#153f9b"/>
<circle cx="470.50" cy="251.38" r="3.80" fill="#15409a"/>
<circle cx="470.50" cy="255.70" r="3.80" fill="#14409a"/>
<circle cx="470.50" cy="260.03" r="3.80" fill="#14409a"/>
<circle cx="470.50" cy="264.35" r="3.80" fill="#14409a"/>
<circle cx="470.50" cy="268.68" r="3.80" fill="#14419a"/>
<circle cx="470.50" cy="273.00" r="3.80" fill="#13419a"/>
<circle cx="470.50" cy="277.33" r="3.80" fill="#13419a"/>
<circle cx="470.50" cy="281.65" r="3.80" fill="#13429a"/>
<circle cx="470.50" cy="285.97" r="3.80" fill="#13429a"/>
<circle cx="470.50" cy="290.30" r="3.80" fill="#13429a"/>
<circle cx="470.50" cy="294.62" r="3.80" fill="#104e96"/>
<circle cx="470.50" cy="298.95" r="3.80" fill="#104f95"/>
<circle cx="470.50" cy="303.27" r="3.80" fill="#104f95"/>
<circle cx="470.50" cy="307.60" r="3.80" fill="#104f95"/>
<circle cx="470.50" cy="311.92" r="3.80" fill="#104f95"/>
<circle cx="470.50" cy="316.25" r="3.80" fill="#105095"/>
<circle cx="470.50" cy="320.57" r="3.80" fill="#105095"/>
<circle cx="470.50" cy="324.90" r="3.80" fill="#105095"/>
<circle cx="470.50" cy="329.22" r="3.80" fill="#105095"/>
<circle cx="470.50" cy="333.55" r="3.80" fill="#105095"/>
<circle cx="470.50" cy="337.87" r="3.80" fill="#105195"/>
<circle cx="470.50" cy="342.20" r="3.80" fill="#105194"/>
<circle cx="470.50" cy="346.52" r="3.80" fill="#105194"/>
<circle cx="470.50" cy="350.84" r="3.80" fill="#13429a"/>
<circle cx="470.50" cy="355.17" r="3.80" fill="#13429a"/>
<circle cx="470.50" cy="359.49" r="3.80" fill="#13429a"/>
<circle cx="470.50" cy="363.82" r="3.80" fill="#104c97"/>
<circle cx="470.50" cy="368.14" r="3.80" fill="#104d96"/>
<circle cx="470.50" cy="372.47" r="3.80" fill="#104e96"/>
<circle cx="470.50" cy="376.79" r="3.80" fill="#104e96"/>
<circle cx="470.50" cy="381.12" r="3.80" fill="#104f95"/>
<circle cx="470.50" cy="385.44" r="3.80" fill="#105095"/>
<circle cx="470.50" cy="389.77" r="3.80" fill="#105194"/>
<circle cx="520.86" cy="130.29" r="3.80" fill="#2a2094"/>
<circle cx="520.86" cy="134.61" r="3.80" fill="#212f9e"/>
<circle cx="520.86" cy="138.94" r="3.80" fill="#20309d"/>
<circle cx="520.86" cy="143.26" r="3.80" fill="#1f329d"/>
<circle cx="520.86" cy="147.59" r="3.80" fill="#1e339d"/>
<circle cx="520.86" cy="151.91" r="3.80" fill="#1d359d"/>
<circle cx="520.86" cy="156.23" r="3.80" fill="#1b369c"/>
<circle cx="520.86" cy="160.56" r="3.80" fill="#1c369c"/>
<circle cx="520.86" cy="164.88" r="3.80" fill="#1c369c"/>
<circle cx="520.86" cy="169.21" r="3.80" fill="#1c369c"/>
<circle cx="520.86" cy="173.53" r="3.80" fill="#1c359c"/>
<circle cx="520.86" cy="177.86" r="3.80" fill="#1c359c"/>
<circle cx="520.86" cy="182.18" r="3.80" fill="#1d359d"/>
<circle cx="520.86" cy="186.51" r="3.80" fill="#1d359d"/>
<circle cx="520.86" cy="190.83" r="3.80" fill="#1d349d"/>
<circle cx="520.86" cy="195.16" r="3.80" fill="#1d349d"/>
<circle cx="520.86" cy="199.48" r="3.80" fill="#1d349d"/>
<circle cx="520.86" cy="203.81" r="3.80" fill="#1e349d"/>
<circle cx="520.86" cy="208.13" r="3.80" fill="#1e339d"/>
<circle cx="520.86" cy="212.46" r="3.80" fill="#1e339d"/>
<circle cx="520.86" cy="216.78" r="3.80" fill="#1e339d"/>
<circle cx="520.86" cy="221.10" r="3.80" fill="#1e329d"/>
<circle cx="520.86" cy="225.43" r="3.80" fill="#27279f"/>
<circle cx="520.86" cy="229.75" r="3.80" fill="#27279f"/>
<circle cx="520.86" cy="234.08" r="3.80" fill="#27279f"/>
<circle cx="520.86" cy="238.40" r="3.80" fill="#104c97"/>
<circle cx="520.86" cy="242.73" r="3.80" fill="#104c96"/>
<circle cx="520.86" cy="247.05" r="3.80" fill="#104d96"/>
<circle cx="520.86" cy="251.38" r="3.80" fill="#104e96"/>
<circle cx="520.86" cy="255.70" r="3.80" fill="#104e96"/>
<circle cx="520.86" cy="260.03" r="3.80" fill="#104f95"/>
<circle cx="520.86" cy="264.35" r="3.80" fill="#105095"/>
<circle cx="520.86" cy="268.68" r="3.80" fill="#105095"/>
<circle cx="520.86" cy="273.00" r="3.80" fill="#105194"/>
<circle cx="520.86" cy="277.33" r="3.80" fill="#125c90"/>
<circle cx="520.86" cy="281.65" r="3.80" fill="#125c8f"/>
<circle cx="520.86" cy="285.97" r="3.80" fill="#125d8f"/>
<circle cx="520.86" cy="290.30" r="3.80" fill="#125d8f"/>
<circle cx="520.86" cy="294.62" r="3.80" fill="#125e8f"/>
<circle cx="520.86" cy="298.95" r="3.80" fill="#125e8e"/>
<circle cx="520.86" cy="303.27" r="3.80" fill="#125f8e"/>
<circle cx="520.86" cy="307.60" r="3.80" fill="#125f8e"/>
<circle cx="520.86" cy="311.92" r="3.80" fill="#125f8e"/>
<circle cx="520.86" cy="316.25" r="3.80" fill="#13608e"/>
<circle cx="520.86" cy="320.57" r="3.80" fill="#13608e"/>
<circle cx="520.86" cy="324.90" r="3.80" fill="#14618e"/>
</g>
<rect x="79.50" y="115.50" width="463.00" height="333.00" fill="none" stroke="#000" stroke-width="1.11"/>
<line x1="100.50" x2="100.50" y1="448.50" y2="453.80" stroke="#000" stroke-width="1.11"/>
<text x="100.50" y="473.20" font-size="19.44" text-anchor="middle">0</text>
<line x1="207.50" x2="207.50" y1="448.50" y2="453.80" stroke="#000" stroke-width="1.11"/>
<text x="207.50" y="473.20" font-size="19.44" text-anchor="middle">1</text>
<line x1="314.50" x2="314.50" y1="448.50" y2="453.80" stroke="#000" stroke-width="1.11"/>
<text x="314.50" y="473.20" font-size="19.44" text-anchor="middle">2</text>
<line x1="421.50" x2="421.50" y1="448.50" y2="453.80" stroke="#000" stroke-width="1.11"/>
<text x="421.50" y="473.20" font-size="19.44" text-anchor="middle">3</text>
<line x1="528.50" x2="528.50" y1="448.50" y2="453.80" stroke="#000" stroke-width="1.11"/>
<text x="528.50" y="473.20" font-size="19.44" text-anchor="middle">4</text>
<text x="310.63" y="496.60" font-size="19.44" text-anchor="middle">along-transect distance [km]</text>
<line x1="74.10" x2="79.50" y1="126.50" y2="126.50" stroke="#000" stroke-width="1.11"/>
<text x="69.68" y="133.20" font-size="19.44" text-anchor="end">0</text>
<line x1="74.10" x2="79.50" y1="169.50" y2="169.50" stroke="#000" stroke-width="1.11"/>
<text x="69.68" y="176.20" font-size="19.44" text-anchor="end">−10</text>
<line x1="74.10" x2="79.50" y1="212.50" y2="212.50" stroke="#000" stroke-width="1.11"/>
<text x="69.68" y="219.20" font-size="19.44" text-anchor="end">−20</text>
<line x1="74.10" x2="79.50" y1="256.50" y2="256.50" stroke="#000" stroke-width="1.11"/>
<text x="69.68" y="263.20" font-size="19.44" text-anchor="end">−30</text>
<line x1="74.10" x2="79.50" y1="299.50" y2="299.50" stroke="#000" stroke-width="1.11"/>
<text x="69.68" y="306.20" font-size="19.44" text-anchor="end">−40</text>
<line x1="74.10" x2="79.50" y1="342.50" y2="342.50" stroke="#000" stroke-width="1.11"/>
<text x="69.68" y="349.20" font-size="19.44" text-anchor="end">−50</text>
<line x1="74.10" x2="79.50" y1="385.50" y2="385.50" stroke="#000" stroke-width="1.11"/>
<text x="69.68" y="392.20" font-size="19.44" text-anchor="end">−60</text>
<line x1="74.10" x2="79.50" y1="428.50" y2="428.50" stroke="#000" stroke-width="1.11"/>
<text x="69.68" y="435.20" font-size="19.44" text-anchor="end">−70</text>
<g clip-path="url(#c1)">
<circle cx="577.82" cy="130.29" r="3.80" fill="#fdee99"/>
<circle cx="577.82" cy="134.61" r="3.80" fill="#fdee99"/>
<circle cx="577.82" cy="138.94" r="3.80" fill="#fdee99"/>
<circle cx="577.82" cy="143.26" r="3.80" fill="#fdee99"/>
<circle cx="577.82" cy="147.59" r="3.80" fill="#fdee99"/>
<circle cx="577.82" cy="151.91" r="3.80" fill="#fdee99"/>
<circle cx="577.82" cy="156.23" r="3.80" fill="#fdee99"/>
<circle cx="577.82" cy="160.56" r="3.80" fill="#fdee99"/>
<circle cx="577.82" cy="164.88" r="3.80" fill="#fdee99"/>
<circle cx="577.82" cy="169.21" r="3.80" fill="#fdee99"/>
<circle cx="577.82" cy="173.53" r="3.80" fill="#fdee99"/>
<circle cx="577.82" cy="177.86" r="3.80" fill="#fdee99"/>
<circle cx="577.82" cy="182.18" r="3.80" fill="#fdee99"/>
<circle cx="577.82" cy="186.51" r="3.80" fill="#fdee99"/>
<circle cx="577.82" cy="190.83" r="3.80" fill="#fdee99"/>
<circle cx="577.82" cy="195.16" r="3.80" fill="#fdee99"/>
<circle cx="577.82" cy="199.48" r="3.80" fill="#fdee99"/>
<circle cx="577.82" cy="203.81" r="3.80" fill="#fdee99"/>
<circle cx="577.82" cy="208.13" r="3.80" fill="#fdee99"/>
<circle cx="577.82" cy="212.46" r="3.80" fill="#fdee99"/>
<circle cx="577.82" cy="216.78" r="3.80" fill="#fdee99"/>
<circle cx="577.82" cy="221.10" r="3.80" fill="#fdee99"/>
<circle cx="577.82" cy="225.43" r="3.80" fill="#fdee99"/>
<circle cx="577.82" cy="229.75" r="3.80" fill="#fdee99"/>
<circle cx="577.82" cy="234.08" r="3.80" fill="#fdee99"/>
<circle cx="577.82" cy="238.40" r="3.80" fill="#fdee99"/>
<circle cx="577.82" cy="242.73" r="3.80" fill="#fdee99"/>
<circle cx="577.82" cy="247.05" r="3.80" fill="#fdee99"/>
<circle cx="577.82" cy="251.38" r="3.80" fill="#fdee99"/>
<circle cx="577.82" cy="255.70" r="3.80" fill="#fdee99"/>
<circle cx="577.82" cy="260.03" r="3.80" fill="#fdee99"/>
<circle cx="577.82" cy="264.35" r="3.80" fill="#fdee99"/>
<circle cx="577.82" cy="268.68" r="3.80" fill="#fdee99"/>
<circle cx="577.82" cy="273.00" r="3.80" fill="#fdee99"/>
<circle cx="577.82" cy="277.33" r="3.80" fill="#fdee99"/>
<circle cx="577.82" cy="281.65" r="3.80" fill="#fdee99"/>
<circle cx="577.82" cy="285.97" r="3.80" fill="#fdee99"/>
<circle cx="577.82" cy="290.30" r="3.80" fill="#fdee99"/>
<circle cx="577.82" cy="294.62" r="3.80" fill="#fdee99"/>
<circle cx="577.82" cy="298.95" r="3.80" fill="#fdee99"/>
<circle cx="577.82" cy="303.27" r="3.80" fill="#fdee99"/>
<circle cx="577.82" cy="307.60" r="3.80" fill="#fdee99"/>
<circle cx="577.82" cy="311.92" r="3.80" fill="#fdee99"/>
<circle cx="577.82" cy="316.25" r="3.80" fill="#fdee99"/>
<circle cx="577.82" cy="320.57" r="3.80" fill="#fdee99"/>
<circle cx="577.82" cy="324.90" r="3.80" fill="#fdee99"/>
<circle cx="577.82" cy="329.22" r="3.80" fill="#fdee99"/>
<circle cx="577.82" cy="333.55" r="3.80" fill="#fdee99"/>
<circle cx="577.82" cy="337.87" r="3.80" fill="#fdee99"/>
<circle cx="577.82" cy="342.20" r="3.80" fill="#fdee99"/>
<circle cx="577.82" cy="346.52" r="3.80" fill="#fdee99"/>
<circle cx="577.82" cy="350.84" r="3.80" fill="#fdee99"/>
<circle cx="614.52" cy="130.29" r="3.80" fill="#fdee99"/>
<circle cx="614.52" cy="134.61" r="3.80" fill="#fdee99"/>
<circle cx="614.52" cy="138.94" r="3.80" fill="#fdee99"/>
<circle cx="614.52" cy="143.26" r="3.80" fill="#fdee99"/>
<circle cx="614.52" cy="147.59" r="3.80" fill="#fdee99"/>
<circle cx="614.52" cy="151.91" r="3.80" fill="#fdee99"/>
<circle cx="614.52" cy="156.23" r="3.80" fill="#fdee99"/>
<circle cx="614.52" cy="160.56" r="3.80" fill="#fdee99"/>
<circle cx="614.52" cy="164.88" r="3.80" fill="#fdee99"/>
<circle cx="614.52" cy="169.21" r="3.80" fill="#fdee99"/>
<circle cx="614.52" cy="173.53" r="3.80" fill="#fdee99"/>
<circle cx="614.52" cy="177.86" r="3.80" fill="#fdee99"/>
<circle cx="614.52" cy="182.18" r="3.80" fill="#fdee99"/>
<circle cx="614.52" cy="186.51" r="3.80" fill="#fdee99"/>
<circle cx="614.52" cy="190.83" r="3.80" fill="#fdee99"/>
<circle cx="614.52" cy="195.16" r="3.80" fill="#fdee99"/>
<circle cx="614.52" cy="199.48" r="3.80" fill="#fdee99"/>
<circle cx="614.52" cy="203.81" r="3.80" fill="#fdee99"/>
<circle cx="614.52" cy="208.13" r="3.80" fill="#fdee99"/>
<circle cx="614.52" cy="212.46" r="3.80" fill="#fdee99"/>
<circle cx="614.52" cy="216.78" r="3.80" fill="#fdee99"/>
<circle cx="614.52" cy="221.10" r="3.80" fill="#fdee99"/>
<circle cx="614.52" cy="225.43" r="3.80" fill="#fdee99"/>
<circle cx="614.52" cy="229.75" r="3.80" fill="#fdee99"/>
<circle cx="614.52" cy="234.08" r="3.80" fill="#fdee99"/>
<circle cx="614.52" cy="238.40" r="3.80" fill="#fdee99"/>
<circle cx="614.52" cy="242.73" r="3.80" fill="#fdee99"/>
<circle cx="614.52" cy="247.05" r="3.80" fill="#fdee99"/>
<circle cx="614.52" cy="251.38" r="3.80" fill="#fdee99"/>
<circle cx="614.52" cy="255.70" r="3.80" fill="#fdee99"/>
<circle cx="614.52" cy="260.03" r="3.80" fill="#fdee99"/>
<circle cx="614.52" cy="264.35" r="3.80" fill="#fdee99"/>
<circle cx="614.52" cy="268.68" r="3.80" fill="#fdee99"/>
<circle cx="614.52" cy="273.00" r="3.80" fill="#fdee99"/>
<circle cx="614.52" cy="277.33" r="3.80" fill="#fdee99"/>
<circle cx="614.52" cy="281.65" r="3.80" fill="#fdee99"/>
<circle cx="614.52" cy="285.97" r="3.80" fill="#fdee99"/>
<circle cx="614.52" cy="290.30" r="3.80" fill="#fdee99"/>
<circle cx="614.52" cy="294.62" r="3.80" fill="#fdee99"/>
<circle cx="614.52" cy="298.95" r="3.80" fill="#fdee99"/>
<circle cx="614.52" cy="303.27" r="3.80" fill="#fdee99"/>
<circle cx="614.52" cy="307.60" r="3.80" fill="#fdee99"/>
<circle cx="664.72" cy="130.29" r="3.80" fill="#fdee99"/>
<circle cx="664.72" cy="134.61" r="3.80" fill="#fdee99"/>
<circle cx="664.72" cy="138.94" r="3.80" fill="#fdee99"/>
<circle cx="664.72" cy="143.26" r="3.80" fill="#fdee99"/>
<circle cx="664.72" cy="147.59" r="3.80" fill="#fdee99"/>
<circle cx="664.72" cy="151.91" r="3.80" fill="#fdee99"/>
<circle cx="664.72" cy="156.23" r="3.80" fill="#fdee99"/>
<circle cx="664.72" cy="160.56" r="3.80" fill="#fdee99"/>
<circle cx="664.72" cy="164.88" r="3.80" fill="#fdee99"/>
<circle cx="664.72" cy="169.21" r="3.80" fill="#fdee99"/>
<circle cx="664.72" cy="173.53" r="3.80" fill="#fdee99"/>
<circle cx="664.72" cy="177.86" r="3.80" fill="#fdee99"/>
<circle cx="664.72" cy="182.18" r="3.80" fill="#fdee99"/>
<circle cx="664.72" cy="186.51" r="3.80" fill="#fdee99"/>
<circle cx="664.72" cy="190.83" r="3.80" fill="#fdee99"/>
<circle cx="664.72" cy="195.16" r="3.80" fill="#fdee99"/>
<circle cx="664.72" cy="199.48" r="3.80" fill="#fdee99"/>
<circle cx="664.72" cy="203.81" r="3.80" fill="#fdee99"/>
<circle cx="664.72" cy="208.13" r="3.80" fill="#fdee99"/>
<circle cx="664.72" cy="212.46" r="3.80" fill="#fdee99"/>
<circle cx="664.72" cy="216.78" r="3.80" fill="#fdee99"/>
<circle cx="664.72" cy="221.10" r="3.80" fill="#fdee99"/>
<circle cx="664.72" cy="225.43" r="3.80" fill="#fdee99"/>
<circle cx="664.72" cy="229.75" r="3.80" fill="#fdee99"/>
<circle cx="664.72" cy="234.08" r="3.80" fill="#fdee99"/>
<circle cx="664.72" cy="238.40" r="3.80" fill="#fdee99"/>
<circle cx="664.72" cy="242.73" r="3.80" fill="#fdee99"/>
<circle cx="664.72" cy="247.05" r="3.80" fill="#fdee99"/>
<circle cx="664.72" cy="251.38" r="3.80" fill="#fdee99"/>
<circle cx="664.72" cy="255.70" r="3.80" fill="#fdee99"/>
<circle cx="664.72" cy="260.03" r="3.80" fill="#fdee99"/>
<circle cx="664.72" cy="264.35" r="3.80" fill="#fdee99"/>
<circle cx="664.72" cy="268.68" r="3.80" fill="#fdee99"/>
<circle cx="664.72" cy="273.00" r="3.80" fill="#fdee99"/>
<circle cx="664.72" cy="277.33" r="3.80" fill="#fdee99"/>
<circle cx="664.72" cy="281.65" r="3.80" fill="#fdee99"/>
<circle cx="664.72" cy="285.97" r="3.80" fill="#fdee99"/>
<circle cx="664.72" cy="290.30" r="3.80" fill="#fdee99"/>
<circle cx="664.72" cy="294.62" r="3.80" fill="#fdee99"/>
<circle cx="664.72" cy="298.95" r="3.80" fill="#fdee99"/>
<circle cx="664.72" cy="303.27" r="3.80" fill="#fdee99"/>
<circle cx="664.72" cy="307.60" r="3.80" fill="#fdee99"/>
<circle cx="664.72" cy="311.92" r="3.80" fill="#fdee99"/>
<circle cx="664.72" cy="316.25" r="3.80" fill="#fdee99"/>
<circle cx="664.72" cy="320.57" r="3.80" fill="#fdee99"/>
<circle cx="664.72" cy="324.90" r="3.80" fill="#fdee99"/>
<circle cx="664.72" cy="329.22" r="3.80" fill="#fdee99"/>
<circle cx="664.72" cy="333.55" r="3.80" fill="#fdee99"/>
<circle cx="664.72" cy="337.87" r="3.80" fill="#fdee99"/>
<circle cx="664.72" cy="342.20" r="3.80" fill="#fdee99"/>
<circle cx="664.72" cy="346.52" r="3.80" fill="#fdee99"/>
<circle cx="664.72" cy="350.84" r="3.80" fill="#fdee99"/>
<circle cx="664.72" cy="355.17" r="3.80" fill="#fdee99"/>
<circle cx="664.72" cy="359.49" r="3.80" fill="#fdee99"/>
<circle cx="664.72" cy="363.82" r="3.80" fill="#fdee99"/>
<circle cx="664.72" cy="368.14" r="3.80" fill="#fdee99"/>
<circle cx="664.72" cy="372.47" r="3.80" fill="#fdee99"/>
<circle cx="664.72" cy="376.79" r="3.80" fill="#fdee99"/>
<circle cx="664.72" cy="381.12" r="3.80" fill="#fdee99"/>
<circle cx="664.72" cy="385.44" r="3.80" fill="#fdee99"/>
<circle cx="702.12" cy="130.29" r="3.80" fill="#fdee99"/>
<circle cx="702.12" cy="134.61" r="3.80" fill="#fdee99"/>
<circle cx="702.12" cy="138.94" r="3.80" fill="#fdee99"/>
<circle cx="702.12" cy="143.26" r="3.80" fill="#fdee99"/>
<circle cx="702.12" cy="147.59" r="3.80" fill="#fdee99"/>
<circle cx="702.12" cy="151.91" r="3.80" fill="#fdee99"/>
<circle cx="702.12" cy="156.23" r="3.80" fill="#fdee99"/>
<circle cx="702.12" cy="160.56" r="3.80" fill="#fdee99"/>
<circle cx="702.12" cy="164.88" r="3.80" fill="#fdee99"/>
<circle cx="702.12" cy="169.21" r="3.80" fill="#fdee99"/>
<circle cx="702.12" cy="173.53" r="3.80" fill="#fdee99"/>
<circle cx="702.12" cy="177.86" r="3.80" fill="#fdee99"/>
<circle cx="702.12" cy="182.18" r="3.80" fill="#fdee99"/>
<circle cx="702.12" cy="186.51" r="3.80" fill="#fdee99"/>
<circle cx="702.12" cy="190.83" r="3.80" fill="#fdee99"/>
<circle cx="702.12" cy="195.16" r="3.80" fill="#fdee99"/>
<circle cx="702.12" cy="199.48" r="3.80" fill="#fdee99"/>
<circle cx="702.12" cy="203.81" r="3.80" fill="#fdee99"/>
<circle cx="702.12" cy="208.13" r="3.80" fill="#fdee99"/>
<circle cx="702.12" cy="212.46" r="3.80" fill="#fdee99"/>
<circle cx="702.12" cy="216.78" r="3.80" fill="#fdee99"/>
<circle cx="702.12" cy="221.10" r="3.80" fill="#fdee99"/>
<circle cx="702.12" cy="225.43" r="3.80" fill="#fdee99"/>
<circle cx="702.12" cy="229.75" r="3.80" fill="#fdee99"/>
<circle cx="702.12" cy="234.08" r="3.80" fill="#fdee99"/>
<circle cx="702.12" cy="238.40" r="3.80" fill="#fdee99"/>
<circle cx="702.12" cy="242.73" r="3.80" fill="#fdee99"/>
<circle cx="702.12" cy="247.05" r="3.80" fill="#fdee99"/>
<circle cx="702.12" cy="251.38" r="3.80" fill="#fdee99"/>
<circle cx="702.12" cy="255.70" r="3.80" fill="#fdee99"/>
<circle cx="702.12" cy="260.03" r="3.80" fill="#fdee99"/>
<circle cx="702.12" cy="264.35" r="3.80" fill="#fdee99"/>
<circle cx="702.12" cy="268.68" r="3.80" fill="#fdee99"/>
<circle cx="702.12" cy="273.00" r="3.80" fill="#fdee99"/>
<circle cx="702.12" cy="277.33" r="3.80" fill="#fdee99"/>
<circle cx="702.12" cy="281.65" r="3.80" fill="#fdee99"/>
<circle cx="702.12" cy="285.97" r="3.80" fill="#fdee99"/>
<circle cx="702.12" cy="290.30" r="3.80" fill="#fdee99"/>
<circle cx="702.12" cy="294.62" r="3.80" fill="#fdee99"/>
<circle cx="702.12" cy="298.95" r="3.80" fill="#fdee99"/>
<circle cx="702.12" cy="303.27" r="3.80" fill="#fdee99"/>
<circle cx="702.12" cy="307.60" r="3.80" fill="#fdee99"/>
<circle cx="702.12" cy="311.92" r="3.80" fill="#fdee99"/>
<circle cx="702.12" cy="316.25" r="3.80" fill="#fdee99"/>
<circle cx="702.12" cy="320.57" r="3.80" fill="#fdee99"/>
<circle cx="702.12" cy="324.90" r="3.80" fill="#fdee99"/>
<circle cx="702.12" cy="329.22" r="3.80" fill="#fdee99"/>
<circle cx="702.12" cy="333.55" r="3.80" fill="#fdee99"/>
<circle cx="702.12" cy="337.87" r="3.80" fill="#fdee99"/>
<circle cx="702.12" cy="342.20" r="3.80" fill="#fdee99"/>
<circle cx="702.12" cy="346.52" r="3.80" fill="#fdee99"/>
<circle cx="702.12" cy="350.84" r="3.80" fill="#fdee99"/>
<circle cx="702.12" cy="355.17" r="3.80" fill="#fdee99"/>
<circle cx="702.12" cy="359.49" r="3.80" fill="#fdee99"/>
<circle cx="702.12" cy="363.82" r="3.80" fill="#fdee99"/>
<circle cx="702.12" cy="368.14" r="3.80" fill="#fdee99"/>
<circle cx="702.12" cy="372.47" r="3.80" fill="#fdee99"/>
<circle cx="702.12" cy="376.79" r="3.80" fill="#fdee99"/>
<circle cx="702.12" cy="381.12" r="3.80" fill="#fdee99"/>
<circle cx="702.12" cy="385.44" r="3.80" fill="#fdee99"/>
<circle cx="751.22" cy="130.29" r="3.80" fill="#fdee99"/>
<circle cx="751.22" cy="134.61" r="3.80" fill="#fdee99"/>
<circle cx="751.22" cy="138.94" r="3.80" fill="#fdee99"/>
<circle cx="751.22" cy="143.26" r="3.80" fill="#fdee99"/>
<circle cx="751.22" cy="147.59" r="3.80" fill="#fdee99"/>
<circle cx="751.22" cy="151.91" r="3.80" fill="#fdee99"/>
<circle cx="751.22" cy="156.23" r="3.80" fill="#fdee99"/>
<circle cx="751.22" cy="160.56" r="3.80" fill="#fdee99"/>
<circle cx="751.22" cy="164.88" r="3.80" fill="#fdee99"/>
<circle cx="751.22" cy="169.21" r="3.80" fill="#fdee99"/>
<circle cx="751.22" cy="173.53" r="3.80" fill="#fdee99"/>
<circle cx="751.22" cy="177.86" r="3.80" fill="#fdee99"/>
<circle cx="751.22" cy="182.18" r="3.80" fill="#fdee99"/>
<circle cx="751.22" cy="186.51" r="3.80" fill="#fdee99"/>
<circle cx="751.22" cy="190.83" r="3.80" fill="#fdee99"/>
<circle cx="751.22" cy="195.16" r="3.80" fill="#fdee99"/>
<circle cx="751.22" cy="199.48" r="3.80" fill="#fdee99"/>
<circle cx="751.22" cy="203.81" r="3.80" fill="#fdee99"/>
<circle cx="751.22" cy="208.13" r="3.80" fill="#fdee99"/>
<circle cx="751.22" cy="212.46" r="3.80" fill="#fdee99"/>
<circle cx="751.22" cy="216.78" r="3.80" fill="#fdee99"/>
<circle cx="751.22" cy="221.10" r="3.80" fill="#fdee99"/>
<circle cx="751.22" cy="225.43" r="3.80" fill="#fdee99"/>
<circle cx="751.22" cy="229.75" r="3.80" fill="#fdee99"/>
<circle cx="751.22" cy="234.08" r="3.80" fill="#fdee99"/>
<circle cx="751.22" cy="238.40" r="3.80" fill="#fdee99"/>
<circle cx="751.22" cy="242.73" r="3.80" fill="#fdee99"/>
<circle cx="751.22" cy="247.05" r="3.80" fill="#fdee99"/>
<circle cx="751.22" cy="251.38" r="3.80" fill="#fdee99"/>
<circle cx="751.22" cy="255.70" r="3.80" fill="#fdee99"/>
<circle cx="751.22" cy="260.03" r="3.80" fill="#fdee99"/>
<circle cx="751.22" cy="264.35" r="3.80" fill="#fdee99"/>
<circle cx="751.22" cy="268.68" r="3.80" fill="#fdee99"/>
<circle cx="751.22" cy="273.00" r="3.80" fill="#fdee99"/>
<circle cx="751.22" cy="277.33" r="3.80" fill="#fdee99"/>
<circle cx="751.22" cy="281.65" r="3.80" fill="#fdee99"/>
<circle cx="751.22" cy="285.97" r="3.80" fill="#fdee99"/>
<circle cx="751.22" cy="290.30" r="3.80" fill="#fdee99"/>
<circle cx="751.22" cy="294.62" r="3.80" fill="#fdee99"/>
<circle cx="751.22" cy="298.95" r="3.80" fill="#fdee99"/>
<circle cx="751.22" cy="303.27" r="3.80" fill="#fdee99"/>
<circle cx="751.22" cy="307.60" r="3.80" fill="#fdee99"/>
<circle cx="751.22" cy="311.92" r="3.80" fill="#fdee99"/>
<circle cx="751.22" cy="316.25" r="3.80" fill="#fdee99"/>
<circle cx="751.22" cy="320.57" r="3.80" fill="#fdee99"/>
<circle cx="751.22" cy="324.90" r="3.80" fill="#fdee99"/>
<circle cx="751.22" cy="329.22" r="3.80" fill="#fdee99"/>
<circle cx="751.22" cy="333.55" r="3.80" fill="#fdee99"/>
<circle cx="751.22" cy="337.87" r="3.80" fill="#fdee99"/>
<circle cx="751.22" cy="342.20" r="3.80" fill="#fdee99"/>
<circle cx="751.22" cy="346.52" r="3.80" fill="#fdee99"/>
<circle cx="751.22" cy="350.84" r="3.80" fill="#fdee99"/>
<circle cx="751.22" cy="355.17" r="3.80" fill="#fdee99"/>
<circle cx="751.22" cy="359.49" r="3.80" fill="#fdee99"/>
<circle cx="751.22" cy="363.82" r="3.80" fill="#fdee99"/>
<circle cx="751.22" cy="368.14" r="3.80" fill="#fdee99"/>
<circle cx="751.22" cy="372.47" r="3.80" fill="#fdee99"/>
<circle cx="751.22" cy="376.79" r="3.80" fill="#fdee99"/>
<circle cx="800.42" cy="130.29" r="3.80" fill="#fdee99"/>
<circle cx="800.42" cy="134.61" r="3.80" fill="#fdee99"/>
<circle cx="800.42" cy="138.94" r="3.80" fill="#fdee99"/>
<circle cx="800.42" cy="143.26" r="3.80" fill="#fdee99"/>
<circle cx="800.42" cy="147.59" r="3.80" fill="#fdee99"/>
<circle cx="800.42" cy="151.91" r="3.80" fill="#fdee99"/>
<circle cx="800.42" cy="156.23" r="3.80" fill="#fdee99"/>
<circle cx="800.42" cy="160.56" r="3.80" fill="#fdee99"/>
<circle cx="800.42" cy="164.88" r="3.80" fill="#fdee99"/>
<circle cx="800.42" cy="169.21" r="3.80" fill="#fdee99"/>
<circle cx="800.42" cy="173.53" r="3.80" fill="#fdee99"/>
<circle cx="800.42" cy="177.86" r="3.80" fill="#fdee99"/>
<circle cx="800.42" cy="182.18" r="3.80" fill="#fdee99"/>
<circle cx="800.42" cy="186.51" r="3.80" fill="#fdee99"/>
<circle cx="800.42" cy="190.83" r="3.80" fill="#fdee99"/>
<circle cx="800.42" cy="195.16" r="3.80" fill="#fdee99"/>
<circle cx="800.42" cy="199.48" r="3.80" fill="#fdee99"/>
<circle cx="800.42" cy="203.81" r="3.80" fill="#fdee99"/>
<circle cx="800.42" cy="208.13" r="3.80" fill="#fdee99"/>
<circle cx="800.42" cy="212.46" r="3.80" fill="#fdee99"/>
<circle cx="800.42" cy="216.78" r="3.80" fill="#fdee99"/>
<circle cx="800.42" cy="221.10" r="3.80" fill="#fdee99"/>
<circle cx="800.42" cy="225.43" r="3.80" fill="#fdee99"/>
<circle cx="800.42" cy="229.75" r="3.80" fill="#fdee99"/>
<circle cx="800.42" cy="234.08" r="3.80" fill="#fdee99"/>
<circle cx="800.42" cy="238.40" r="3.80" fill="#fdee99"/>
<circle cx="800.42" cy="242.73" r="3.80" fill="#fdee99"/>
<circle cx="800.42" cy="247.05" r="3.80" fill="#fdee99"/>
<circle cx="800.42" cy="251.38" r="3.80" fill="#fdee99"/>
<circle cx="800.42" cy="255.70" r="3.80" fill="#fdee99"/>
<circle cx="800.42" cy="260.03" r="3.80" fill="#fdee99"/>
<circle cx="800.42" cy="264.35" r="3.80" fill="#fdee99"/>
<circle cx="800.42" cy="268.68" r="3.80" fill="#fdee99"/>
<circle cx="800.42" cy="273.00" r="3.80" fill="#fdee99"/>
<circle cx="800.42" cy="277.33" r="3.80" fill="#fdee99"/>
<circle cx="800.42" cy="281.65" r="3.80" fill="#fdee99"/>
<circle cx="800.42" cy="285.97" r="3.80" fill="#fdee99"/>
<circle cx="800.42" cy="290.30" r="3.80" fill="#fdee99"/>
<circle cx="800.42" cy="294.62" r="3.80" fill="#fdee99"/>
<circle cx="800.42" cy="298.95" r="3.80" fill="#fdee99"/>
<circle cx="800.42" cy="303.27" r="3.80" fill="#fdee99"/>
<circle cx="800.42" cy="307.60" r="3.80" fill="#fdee99"/>
<circle cx="800.42" cy="311.92" r="3.80" fill="#fdee99"/>
<circle cx="800.42" cy="316.25" r="3.80" fill="#fdee99"/>
<circle cx="800.42" cy="320.57" r="3.80" fill="#fdee99"/>
<circle cx="800.42" cy="324.90" r="3.80" fill="#fdee99"/>
<circle cx="800.42" cy="329.22" r="3.80" fill="#fdee99"/>
<circle cx="800.42" cy="333.55" r="3.80" fill="#fdee99"/>
<circle cx="800.42" cy="337.87" r="3.80" fill="#fdee99"/>
<circle cx="800.42" cy="342.20" r="3.80" fill="#fdee99"/>
<circle cx="800.42" cy="346.52" r="3.80" fill="#fdee99"/>
<circle cx="800.42" cy="350.84" r="3.80" fill="#fdee99"/>
<circle cx="800.42" cy="355.17" r="3.80" fill="#fdee99"/>
<circle cx="800.42" cy="359.49" r="3.80" fill="#fdee99"/>
<circle cx="800.42" cy="363.82" r="3.80" fill="#fdee99"/>
<circle cx="800.42" cy="368.14" r="3.80" fill="#fdee99"/>
<circle cx="800.42" cy="372.47" r="3.80" fill="#fdee99"/>
<circle cx="849.42" cy="130.29" r="3.80" fill="#fdee99"/>
<circle cx="849.42" cy="134.61" r="3.80" fill="#fdee99"/>
<circle cx="849.42" cy="138.94" r="3.80" fill="#fdee99"/>
<circle cx="849.42" cy="143.26" r="3.80" fill="#fdee99"/>
<circle cx="849.42" cy="147.59" r="3.80" fill="#fdee99"/>
<circle cx="849.42" cy="151.91" r="3.80" fill="#fdee99"/>
<circle cx="849.42" cy="156.23" r="3.80" fill="#fdee99"/>
<circle cx="849.42" cy="160.56" r="3.80" fill="#fdee99"/>
<circle cx="849.42" cy="164.88" r="3.80" fill="#fdee99"/>
<circle cx="849.42" cy="169.21" r="3.80" fill="#fdee99"/>
<circle cx="849.42" cy="173.53" r="3.80" fill="#fdee99"/>
<circle cx="849.42" cy="177.86" r="3.80" fill="#fdee99"/>
<circle cx="849.42" cy="182.18" r="3.80" fill="#fdee99"/>
<circle cx="849.42" cy="186.51" r="3.80" fill="#fdee99"/>
<circle cx="849.42" cy="190.83" r="3.80" fill="#fdee99"/>
<circle cx="849.42" cy="195.16" r="3.80" fill="#fdee99"/>
<circle cx="849.42" cy="199.48" r="3.80" fill="#fdee99"/>
<circle cx="849.42" cy="203.81" r="3.80" fill="#fdee99"/>
<circle cx="849.42" cy="208.13" r="3.80" fill="#fdee99"/>
<circle cx="849.42" cy="212.46" r="3.80" fill="#fdee99"/>
<circle cx="849.42" cy="216.78" r="3.80" fill="#fdee99"/>
<circle cx="849.42" cy="221.10" r="3.80" fill="#fdee99"/>
<circle cx="849.42" cy="225.43" r="3.80" fill="#fdee99"/>
<circle cx="849.42" cy="229.75" r="3.80" fill="#fdee99"/>
<circle cx="849.42" cy="234.08" r="3.80" fill="#fdee99"/>
<circle cx="849.42" cy="238.40" r="3.80" fill="#fdee99"/>
<circle cx="849.42" cy="242.73" r="3.80" fill="#fdee99"/>
<circle cx="849.42" cy="247.05" r="3.80" fill="#fdee99"/>
<circle cx="849.42" cy="251.38" r="3.80" fill="#fdee99"/>
<circle cx="849.42" cy="255.70" r="3.80" fill="#fdee99"/>
<circle cx="849.42" cy="260.03" r="3.80" fill="#fdee99"/>
<circle cx="849.42" cy="264.35" r="3.80" fill="#fdee99"/>
<circle cx="849.42" cy="268.68" r="3.80" fill="#fdee99"/>
<circle cx="849.42" cy="273.00" r="3.80" fill="#fdee99"/>
<circle cx="849.42" cy="277.33" r="3.80" fill="#fdee99"/>
<circle cx="849.42" cy="281.65" r="3.80" fill="#fdee99"/>
<circle cx="849.42" cy="285.97" r="3.80" fill="#fdee99"/>
<circle cx="849.42" cy="290.30" r="3.80" fill="#fdee99"/>
<circle cx="849.42" cy="294.62" r="3.80" fill="#fdee99"/>
<circle cx="849.42" cy="298.95" r="3.80" fill="#fdee99"/>
<circle cx="849.42" cy="303.27" r="3.80" fill="#fdee99"/>
<circle cx="849.42" cy="307.60" r="3.80" fill="#fdee99"/>
<circle cx="849.42" cy="311.92" r="3.80" fill="#fdee99"/>
<circle cx="849.42" cy="316.25" r="3.80" fill="#fdee99"/>
<circle cx="849.42" cy="320.57" r="3.80" fill="#fdee99"/>
<circle cx="849.42" cy="324.90" r="3.80" fill="#fdee99"/>
<circle cx="849.42" cy="329.22" r="3.80" fill="#fdee99"/>
<circle cx="849.42" cy="333.55" r="3.80" fill="#fdee99"/>
<circle cx="849.42" cy="337.87" r="3.80" fill="#fdee99"/>
<circle cx="849.42" cy="342.20" r="3.80" fill="#fdee99"/>
<circle cx="849.42" cy="346.52" r="3.80" fill="#fdee99"/>
<circle cx="849.42" cy="350.84" r="3.80" fill="#fdee99"/>
<circle cx="849.42" cy="355.17" r="3.80" fill="#fdee99"/>
<circle cx="849.42" cy="359.49" r="3.80" fill="#fdee99"/>
<circle cx="849.42" cy="363.82" r="3.80" fill="#fdee99"/>
<circle cx="849.42" cy="368.14" r="3.80" fill="#fdee99"/>
<circle cx="849.42" cy="372.47" r="3.80" fill="#fdee99"/>
<circle cx="849.42" cy="376.79" r="3.80" fill="#fdee99"/>
<circle cx="849.42" cy="381.12" r="3.80" fill="#fdee99"/>
<circle cx="849.42" cy="385.44" r="3.80" fill="#fdee99"/>
<circle cx="849.42" cy="389.77" r="3.80" fill="#fdee99"/>
<circle cx="849.42" cy="394.09" r="3.80" fill="#fdee99"/>
<circle cx="849.42" cy="398.42" r="3.80" fill="#fdee99"/>
<circle cx="849.42" cy="402.74" r="3.80" fill="#fdee99"/>
<circle cx="899.31" cy="130.29" r="3.80" fill="#fdee99"/>
<circle cx="899.31" cy="134.61" r="3.80" fill="#fdee99"/>
<circle cx="899.31" cy="138.94" r="3.80" fill="#fdee99"/>
<circle cx="899.31" cy="143.26" r="3.80" fill="#fdee99"/>
<circle cx="899.31" cy="147.59" r="3.80" fill="#fdee99"/>
<circle cx="899.31" cy="151.91" r="3.80" fill="#fdee99"/>
<circle cx="899.31" cy="156.23" r="3.80" fill="#fdee99"/>
<circle cx="899.31" cy="160.56" r="3.80" fill="#fdee99"/>
<circle cx="899.31" cy="164.88" r="3.80" fill="#fdee99"/>
<circle cx="899.31" cy="169.21" r="3.80" fill="#fdee99"/>
<circle cx="899.31" cy="173.53" r="3.80" fill="#fdee99"/>
<circle cx="899.31" cy="177.86" r="3.80" fill="#fdee99"/>
<circle cx="899.31" cy="182.18" r="3.80" fill="#fdee99"/>
<circle cx="899.31" cy="186.51" r="3.80" fill="#fdee99"/>
<circle cx="899.31" cy="190.83" r="3.80" fill="#fdee99"/>
<circle cx="899.31" cy="195.16" r="3.80" fill="#fdee99"/>
<circle cx="899.31" cy="199.48" r="3.80" fill="#fdee99"/>
<circle cx="899.31" cy="203.81" r="3.80" fill="#fdee99"/>
<circle cx="899.31" cy="208.13" r="3.80" fill="#fdee99"/>
<circle cx="899.31" cy="212.46" r="3.80" fill="#fdee99"/>
<circle cx="899.31" cy="216.78" r="3.80" fill="#fdee99"/>
<circle cx="899.31" cy="221.10" r="3.80" fill="#fdee99"/>
<circle cx="899.31" cy="225.43" r="3.80" fill="#fdee99"/>
<circle cx="899.31" cy="229.75" r="3.80" fill="#fdee99"/>
<circle cx="899.31" cy="234.08" r="3.80" fill="#fdee99"/>
<circle cx="899.31" cy="238.40" r="3.80" fill="#fdee99"/>
<circle cx="899.31" cy="242.73" r="3.80" fill="#fdee99"/>
<circle cx="899.31" cy="247.05" r="3.80" fill="#fdee99"/>
<circle cx="899.31" cy="251.38" r="3.80" fill="#fdee99"/>
<circle cx="899.31" cy="255.70" r="3.80" fill="#fdee99"/>
<circle cx="899.31" cy="260.03" r="3.80" fill="#fdee99"/>
<circle cx="899.31" cy="264.35" r="3.80" fill="#fdee99"/>
<circle cx="899.31" cy="268.68" r="3.80" fill="#fdee99"/>
<circle cx="899.31" cy="273.00" r="3.80" fill="#fdee99"/>
<circle cx="899.31" cy="277.33" r="3.80" fill="#fdee99"/>
<circle cx="899.31" cy="281.65" r="3.80" fill="#fdee99"/>
<circle cx="899.31" cy="285.97" r="3.80" fill="#fdee99"/>
<circle cx="899.31" cy="290.30" r="3.80" fill="#fdee99"/>
<circle cx="899.31" cy="294.62" r="3.80" fill="#fdee99"/>
<circle cx="899.31" cy="298.95" r="3.80" fill="#fdee99"/>
<circle cx="899.31" cy="303.27" r="3.80" fill="#fdee99"/>
<circle cx="899.31" cy="307.60" r="3.80" fill="#fdee99"/>
<circle cx="899.31" cy="311.92" r="3.80" fill="#fdee99"/>
<circle cx="899.31" cy="316.25" r="3.80" fill="#fdee99"/>
<circle cx="899.31" cy="320.57" r="3.80" fill="#fdee99"/>
<circle cx="899.31" cy="324.90" r="3.80" fill="#fdee99"/>
<circle cx="899.31" cy="329.22" r="3.80" fill="#fdee99"/>
<circle cx="899.31" cy="333.55" r="3.80" fill="#fdee99"/>
<circle cx="899.31" cy="337.87" r="3.80" fill="#fdee99"/>
<circle cx="899.31" cy="342.20" r="3.80" fill="#fdee99"/>
<circle cx="899.31" cy="346.52" r="3.80" fill="#fdee99"/>
<circle cx="899.31" cy="350.84" r="3.80" fill="#fdee99"/>
<circle cx="899.31" cy="355.17" r="3.80" fill="#fdee99"/>
<circle cx="899.31" cy="359.49" r="3.80" fill="#fdee99"/>
<circle cx="899.31" cy="363.82" r="3.80" fill="#fdee99"/>
<circle cx="899.31" cy="368.14" r="3.80" fill="#fdee99"/>
<circle cx="899.31" cy="372.47" r="3.80" fill="#fdee99"/>
<circle cx="899.31" cy="376.79" r="3.80" fill="#fdee99"/>
<circle cx="899.31" cy="381.12" r="3.80" fill="#fdee99"/>
<circle cx="899.31" cy="385.44" r="3.80" fill="#fdee99"/>
<circle cx="899.31" cy="389.77" r="3.80" fill="#fdee99"/>
<circle cx="899.31" cy="394.09" r="3.80" fill="#fdee99"/>
<circle cx="899.31" cy="398.42" r="3.80" fill="#fdee99"/>
<circle cx="899.31" cy="402.74" r="3.80" fill="#fdee99"/>
<circle cx="899.31" cy="407.07" r="3.80" fill="#fdee99"/>
<circle cx="899.31" cy="411.39" r="3.80" fill="#fdee99"/>
<circle cx="899.31" cy="415.71" r="3.80" fill="#fdee99"/>
<circle cx="899.31" cy="420.04" r="3.80" fill="#fdee99"/>
<circle cx="899.31" cy="424.36" r="3.80" fill="#fdee99"/>
<circle cx="899.31" cy="428.69" r="3.80" fill="#fdee99"/>
<circle cx="899.31" cy="433.01" r="3.80" fill="#fdee99"/>
<circle cx="947.92" cy="130.29" r="3.80" fill="#fdee99"/>
<circle cx="947.92" cy="134.61" r="3.80" fill="#fdee99"/>
<circle cx="947.92" cy="138.94" r="3.80" fill="#fdee99"/>
<circle cx="947.92" cy="143.26" r="3.80" fill="#fdee99"/>
<circle cx="947.92" cy="147.59" r="3.80" fill="#fdee99"/>
<circle cx="947.92" cy="151.91" r="3.80" fill="#fdee99"/>
<circle cx="947.92" cy="156.23" r="3.80" fill="#fdee99"/>
<circle cx="947.92" cy="160.56" r="3.80" fill="#fdee99"/>
<circle cx="947.92" cy="164.88" r="3.80" fill="#fdee99"/>
<circle cx="947.92" cy="169.21" r="3.80" fill="#fdee99"/>
<circle cx="947.92" cy="173.53" r="3.80" fill="#fdee99"/>
<circle cx="947.92" cy="177.86" r="3.80" fill="#fdee99"/>
<circle cx="947.92" cy="182.18" r="3.80" fill="#fdee99"/>
<circle cx="947.92" cy="186.51" r="3.80" fill="#fdee99"/>
<circle cx="947.92" cy="190.83" r="3.80" fill="#fdee99"/>
<circle cx="947.92" cy="195.16" r="3.80" fill="#fdee99"/>
<circle cx="947.92" cy="199.48" r="3.80" fill="#fdee99"/>
<circle cx="947.92" cy="203.81" r="3.80" fill="#fdee99"/>
<circle cx="947.92" cy="208.13" r="3.80" fill="#fdee99"/>
<circle cx="947.92" cy="212.46" r="3.80" fill="#fdee99"/>
<circle cx="947.92" cy="216.78" r="3.80" fill="#fdee99"/>
<circle cx="947.92" cy="221.10" r="3.80" fill="#fdee99"/>
<circle cx="947.92" cy="225.43" r="3.80" fill="#fdee99"/>
<circle cx="947.92" cy="229.75" r="3.80" fill="#fdee99"/>
<circle cx="947.92" cy="234.08" r="3.80" fill="#fdee99"/>
<circle cx="947.92" cy="238.40" r="3.80" fill="#fdee99"/>
<circle cx="947.92" cy="242.73" r="3.80" fill="#fdee99"/>
<circle cx="947.92" cy="247.05" r="3.80" fill="#fdee99"/>
<circle cx="947.92" cy="251.38" r="3.80" fill="#fdee99"/>
<circle cx="947.92" cy="255.70" r="3.80" fill="#fdee99"/>
<circle cx="947.92" cy="260.03" r="3.80" fill="#fdee99"/>
<circle cx="947.92" cy="264.35" r="3.80" fill="#fdee99"/>
<circle cx="947.92" cy="268.68" r="3.80" fill="#fdee99"/>
<circle cx="947.92" cy="273.00" r="3.80" fill="#fdee99"/>
<circle cx="947.92" cy="277.33" r="3.80" fill="#fdee99"/>
<circle cx="947.92" cy="281.65" r="3.80" fill="#fdee99"/>
<circle cx="947.92" cy="285.97" r="3.80" fill="#fdee99"/>
<circle cx="947.92" cy="290.30" r="3.80" fill="#fdee99"/>
<circle cx="947.92" cy="294.62" r="3.80" fill="#fdee99"/>
<circle cx="947.92" cy="298.95" r="3.80" fill="#fdee99"/>
<circle cx="947.92" cy="303.27" r="3.80" fill="#fdee99"/>
<circle cx="947.92" cy="307.60" r="3.80" fill="#fdee99"/>
<circle cx="947.92" cy="311.92" r="3.80" fill="#fdee99"/>
<circle cx="947.92" cy="316.25" r="3.80" fill="#fdee99"/>
<circle cx="947.92" cy="320.57" r="3.80" fill="#fdee99"/>
<circle cx="947.92" cy="324.90" r="3.80" fill="#fdee99"/>
<circle cx="947.92" cy="329.22" r="3.80" fill="#fdee99"/>
<circle cx="947.92" cy="333.55" r="3.80" fill="#fdee99"/>
<circle cx="947.92" cy="337.87" r="3.80" fill="#fdee99"/>
<circle cx="947.92" cy="342.20" r="3.80" fill="#fdee99"/>
<circle cx="947.92" cy="346.52" r="3.80" fill="#fdee99"/>
<circle cx="947.92" cy="350.84" r="3.80" fill="#fdee99"/>
<circle cx="947.92" cy="355.17" r="3.80" fill="#fdee99"/>
<circle cx="947.92" cy="359.49" r="3.80" fill="#fdee99"/>
<circle cx="947.92" cy="363.82" r="3.80" fill="#fdee99"/>
<circle cx="947.92" cy="368.14" r="3.80" fill="#fdee99"/>
<circle cx="947.92" cy="372.47" r="3.80" fill="#fdee99"/>
<circle cx="947.92" cy="376.79" r="3.80" fill="#fdee99"/>
<circle cx="947.92" cy="381.12" r="3.80" fill="#fdee99"/>
<circle cx="947.92" cy="385.44" r="3.80" fill="#fdee99"/>
<circle cx="947.92" cy="389.77" r="3.80" fill="#fdee99"/>
<circle cx="998.28" cy="130.29" r="3.80" fill="#fdee99"/>
<circle cx="998.28" cy="134.61" r="3.80" fill="#fdee99"/>
<circle cx="998.28" cy="138.94" r="3.80" fill="#fdee99"/>
<circle cx="998.28" cy="143.26" r="3.80" fill="#fdee99"/>
<circle cx="998.28" cy="147.59" r="3.80" fill="#fdee99"/>
<circle cx="998.28" cy="151.91" r="3.80" fill="#fdee99"/>
<circle cx="998.28" cy="156.23" r="3.80" fill="#fdee99"/>
<circle cx="998.28" cy="160.56" r="3.80" fill="#fdee99"/>
<circle cx="998.28" cy="164.88" r="3.80" fill="#fdee99"/>
<circle cx="998.28" cy="169.21" r="3.80" fill="#fdee99"/>
<circle cx="998.28" cy="173.53" r="3.80" fill="#fdee99"/>
<circle cx="998.28" cy="177.86" r="3.80" fill="#fdee99"/>
<circle cx="998.28" cy="182.18" r="3.80" fill="#fdee99"/>
<circle cx="998.28" cy="186.51" r="3.80" fill="#fdee99"/>
<circle cx="998.28" cy="190.83" r="3.80" fill="#fdee99"/>
<circle cx="998.28" cy="195.16" r="3.80" fill="#fdee99"/>
<circle cx="998.28" cy="199.48" r="3.80" fill="#fdee99"/>
<circle cx="998.28" cy="203.81" r="3.80" fill="#fdee99"/>
<circle cx="998.28" cy="208.13" r="3.80" fill="#fdee99"/>
<circle cx="998.28" cy="212.46" r="3.80" fill="#fdee99"/>
<circle cx="998.28" cy="216.78" r="3.80" fill="#fdee99"/>
<circle cx="998.28" cy="221.10" r="3.80" fill="#fdee99"/>
<circle cx="998.28" cy="225.43" r="3.80" fill="#fdee99"/>
<circle cx="998.28" cy="229.75" r="3.80" fill="#fdee99"/>
<circle cx="998.28" cy="234.08" r="3.80" fill="#fdee99"/>
<circle cx="998.28" cy="238.40" r="3.80" fill="#fdee99"/>
<circle cx="998.28" cy="242.73" r="3.80" fill="#fdee99"/>
<circle cx="998.28" cy="247.05" r="3.80" fill="#fdee99"/>
<circle cx="998.28" cy="251.38" r="3.80" fill="#fdee99"/>
<circle cx="998.28" cy="255.70" r="3.80" fill="#fdee99"/>
<circle cx="998.28" cy="260.03" r="3.80" fill="#fdee99"/>
<circle cx="998.28" cy="264.35" r="3.80" fill="#fdee99"/>
<circle cx="998.28" cy="268.68" r="3.80" fill="#fdee99"/>
<circle cx="998.28" cy="273.00" r="3.80" fill="#fdee99"/>
<circle cx="998.28" cy="277.33" r="3.80" fill="#fdee99"/>
<circle cx="998.28" cy="281.65" r="3.80" fill="#fdee99"/>
<circle cx="998.28" cy="285.97" r="3.80" fill="#fdee99"/>
<circle cx="998.28" cy="290.30" r="3.80" fill="#fdee99"/>
<circle cx="998.28" cy="294.62" r="3.80" fill="#fdee99"/>
<circle cx="998.28" cy="298.95" r="3.80" fill="#fdee99"/>
<circle cx="998.28" cy="303.27" r="3.80" fill="#fdee99"/>
<circle cx="998.28" cy="307.60" r="3.80" fill="#fdee99"/>
<circle cx="998.28" cy="311.92" r="3.80" fill="#fdee99"/>
<circle cx="998.28" cy="316.25" r="3.80" fill="#fdee99"/>
<circle cx="998.28" cy="320.57" r="3.80" fill="#fdee99"/>
<circle cx="998.28" cy="324.90" r="3.80" fill="#fdee99"/>
</g>
<rect x="557.50" y="115.50" width="462.00" height="333.00" fill="none" stroke="#000" stroke-width="1.11"/>
<line x1="578.50" x2="578.50" y1="448.50" y2="453.80" stroke="#000" stroke-width="1.11"/>
<text x="578.50" y="473.20" font-size="19.44" text-anchor="middle">0</text>
<line x1="685.50" x2="685.50" y1="448.50" y2="453.80" stroke="#000" stroke-width="1.11"/>
<text x="685.50" y="473.20" font-size="19.44" text-anchor="middle">1</text>
<line x1="792.50" x2="792.50" y1="448.50" y2="453.80" stroke="#000" stroke-width="1.11"/>
<text x="792.50" y="473.20" font-size="19.44" text-anchor="middle">2</text>
<line x1="898.50" x2="898.50" y1="448.50" y2="453.80" stroke="#000" stroke-width="1.11"/>
<text x="898.50" y="473.20" font-size="19.44" text-anchor="middle">3</text>
<line x1="1005.50" x2="1005.50" y1="448.50" y2="453.80" stroke="#000" stroke-width="1.11"/>
<text x="1005.50" y="473.20" font-size="19.44" text-anchor="middle">4</text>
<text x="788.05" y="496.60" font-size="19.44" text-anchor="middle">along-transect distance [km]</text>
<line x1="552.10" x2="557.50" y1="126.50" y2="126.50" stroke="#000" stroke-width="1.11"/>
<line x1="552.10" x2="557.50" y1="169.50" y2="169.50" stroke="#000" stroke-width="1.11"/>
<line x1="552.10" x2="557.50" y1="212.50" y2="212.50" stroke="#000" stroke-width="1.11"/>
<line x1="552.10" x2="557.50" y1="256.50" y2="256.50" stroke="#000" stroke-width="1.11"/>
<line x1="552.10" x2="557.50" y1="299.50" y2="299.50" stroke="#000" stroke-width="1.11"/>
<line x1="552.10" x2="557.50" y1="342.50" y2="342.50" stroke="#000" stroke-width="1.11"/>
<line x1="552.10" x2="557.50" y1="385.50" y2="385.50" stroke="#000" stroke-width="1.11"/>
<line x1="552.10" x2="557.50" y1="428.50" y2="428.50" stroke="#000" stroke-width="1.11"/>
<g clip-path="url(#c2)">
<circle cx="1054.82" cy="115.45" r="3.80" fill="#85949f"/>
<circle cx="1054.82" cy="120.21" r="3.80" fill="#1d4967"/>
<circle cx="1054.82" cy="124.96" r="3.80" fill="#224c6a"/>
<circle cx="1054.82" cy="129.72" r="3.80" fill="#29516e"/>
<circle cx="1054.82" cy="134.48" r="3.80" fill="#2e5571"/>
<circle cx="1054.82" cy="139.24" r="3.80" fill="#365a75"/>
<circle cx="1054.82" cy="143.99" r="3.80" fill="#3c5e78"/>
<circle cx="1054.82" cy="148.75" r="3.80" fill="#46657d"/>
<circle cx="1054.82" cy="153.51" r="3.80" fill="#46657d"/>
<circle cx="1054.82" cy="158.26" r="3.80" fill="#46657d"/>
<circle cx="1054.82" cy="163.02" r="3.80" fill="#46657d"/>
<circle cx="1054.82" cy="167.78" r="3.80" fill="#46657d"/>
<circle cx="1054.82" cy="172.54" r="3.80" fill="#46657d"/>
<circle cx="1054.82" cy="177.29" r="3.80" fill="#46657d"/>
<circle cx="1054.82" cy="182.05" r="3.80" fill="#46657d"/>
<circle cx="1054.82" cy="186.81" r="3.80" fill="#46657d"/>
<circle cx="1054.82" cy="191.56" r="3.80" fill="#46657e"/>
<circle cx="1054.82" cy="196.32" r="3.80" fill="#46657e"/>
<circle cx="1054.82" cy="201.08" r="3.80" fill="#47657e"/>
<circle cx="1054.82" cy="205.84" r="3.80" fill="#47657e"/>
<circle cx="1054.82" cy="210.59" r="3.80" fill="#47657e"/>
<circle cx="1054.82" cy="215.35" r="3.80" fill="#47657e"/>
<circle cx="1054.82" cy="220.11" r="3.80" fill="#47657e"/>
<circle cx="1054.82" cy="224.86" r="3.80" fill="#47667e"/>
<circle cx="1054.82" cy="229.62" r="3.80" fill="#47667e"/>
<circle cx="1054.82" cy="234.38" r="3.80" fill="#47667e"/>
<circle cx="1054.82" cy="239.14" r="3.80" fill="#47667e"/>
<circle cx="1054.82" cy="243.89" r="3.80" fill="#47667e"/>
<circle cx="1054.82" cy="248.65" r="3.80" fill="#47667e"/>
<circle cx="1054.82" cy="253.41" r="3.80" fill="#48667e"/>
<circle cx="1054.82" cy="258.16" r="3.80" fill="#48667e"/>
<circle cx="1054.82" cy="262.92" r="3.80" fill="#48667e"/>
<circle cx="1054.82" cy="267.68" r="3.80" fill="#49677f"/>
<circle cx="1054.82" cy="272.44" r="3.80" fill="#49677f"/>
<circle cx="1054.82" cy="277.19" r="3.80" fill="#49677f"/>
<circle cx="1054.82" cy="281.95" r="3.80" fill="#4a677f"/>
<circle cx="1054.82" cy="286.71" r="3.80" fill="#4a687f"/>
<circle cx="1054.82" cy="291.46" r="3.80" fill="#4a6880"/>
<circle cx="1054.82" cy="296.22" r="3.80" fill="#4b6880"/>
<circle cx="1054.82" cy="300.98" r="3.80" fill="#4b6880"/>
<circle cx="1054.82" cy="305.74" r="3.80" fill="#4c6980"/>
<circle cx="1054.82" cy="310.49" r="3.80" fill="#4c6980"/>
<circle cx="1054.82" cy="315.25" r="3.80" fill="#4c6981"/>
<circle cx="1054.82" cy="320.01" r="3.80" fill="#4d6981"/>
<circle cx="1054.82" cy="324.76" r="3.80" fill="#4d6a81"/>
<circle cx="1054.82" cy="329.52" r="3.80" fill="#4d6a81"/>
<circle cx="1054.82" cy="334.28" r="3.80" fill="#4e6a81"/>
<circle cx="1054.82" cy="339.04" r="3.80" fill="#4e6a82"/>
<circle cx="1054.82" cy="343.79" r="3.80" fill="#4f6b82"/>
<circle cx="1054.82" cy="348.55" r="3.80" fill="#4f6b82"/>
<circle cx="1054.82" cy="353.31" r="3.80" fill="#4f6b82"/>
<circle cx="1054.82" cy="358.06" r="3.80" fill="#506b82"/>
<circle cx="1091.52" cy="115.45" r="3.80" fill="#163a58"/>
<circle cx="1091.52" cy="120.21" r="3.80" fill="#204a69"/>
<circle cx="1091.52" cy="124.96" r="3.80" fill="#2c536f"/>
<circle cx="1091.52" cy="129.72" r="3.80" fill="#385b76"/>
<circle cx="1091.52" cy="134.48" r="3.80" fill="#44637c"/>
<circle cx="1091.52" cy="139.24" r="3.80" fill="#44637c"/>
<circle cx="1091.52" cy="143.99" r="3.80" fill="#44637c"/>
<circle cx="1091.52" cy="148.75" r="3.80" fill="#44647c"/>
<circle cx="1091.52" cy="153.51" r="3.80" fill="#44647c"/>
<circle cx="1091.52" cy="158.26" r="3.80" fill="#44647c"/>
<circle cx="1091.52" cy="163.02" r="3.80" fill="#44647c"/>
<circle cx="1091.52" cy="167.78" r="3.80" fill="#45647d"/>
<circle cx="1091.52" cy="172.54" r="3.80" fill="#45647d"/>
<circle cx="1091.52" cy="177.29" r="3.80" fill="#45647d"/>
<circle cx="1091.52" cy="182.05" r="3.80" fill="#45647d"/>
<circle cx="1091.52" cy="186.81" r="3.80" fill="#45647d"/>
<circle cx="1091.52" cy="191.56" r="3.80" fill="#45647d"/>
<circle cx="1091.52" cy="196.32" r="3.80" fill="#45647d"/>
<circle cx="1091.52" cy="201.08" r="3.80" fill="#45657d"/>
<circle cx="1091.52" cy="205.84" r="3.80" fill="#46657d"/>
<circle cx="1091.52" cy="210.59" r="3.80" fill="#46657d"/>
<circle cx="1091.52" cy="215.35" r="3.80" fill="#46657d"/>
<circle cx="1091.52" cy="220.11" r="3.80" fill="#46657d"/>
<circle cx="1091.52" cy="224.86" r="3.80" fill="#46657d"/>
<circle cx="1091.52" cy="229.62" r="3.80" fill="#46657e"/>
<circle cx="1091.52" cy="234.38" r="3.80" fill="#47657e"/>
<circle cx="1091.52" cy="239.14" r="3.80" fill="#47657e"/>
<circle cx="1091.52" cy="243.89" r="3.80" fill="#47667e"/>
<circle cx="1091.52" cy="248.65" r="3.80" fill="#47667e"/>
<circle cx="1091.52" cy="253.41" r="3.80" fill="#47667e"/>
<circle cx="1091.52" cy="258.16" r="3.80" fill="#48667e"/>
<circle cx="1091.52" cy="262.92" r="3.80" fill="#48667e"/>
<circle cx="1091.52" cy="267.68" r="3.80" fill="#48667e"/>
<circle cx="1091.52" cy="272.44" r="3.80" fill="#48667e"/>
<circle cx="1091.52" cy="277.19" r="3.80" fill="#48677f"/>
<circle cx="1091.52" cy="281.95" r="3.80" fill="#49677f"/>
<circle cx="1091.52" cy="286.71" r="3.80" fill="#49677f"/>
<circle cx="1091.52" cy="291.46" r="3.80" fill="#49677f"/>
<circle cx="1091.52" cy="296.22" r="3.80" fill="#49677f"/>
<circle cx="1091.52" cy="300.98" r="3.80" fill="#4a677f"/>
<circle cx="1091.52" cy="305.74" r="3.80" fill="#4a687f"/>
<circle cx="1091.52" cy="310.49" r="3.80" fill="#4a6880"/>
<circle cx="1141.72" cy="115.45" r="3.80" fill="#85949f"/>
<circle cx="1141.72" cy="120.21" r="3.80" fill="#143755"/>
<circle cx="1141.72" cy="124.96" r="3.80" fill="#1a4463"/>
<circle cx="1141.72" cy="129.72" r="3.80" fill="#254e6b"/>
<circle cx="1141.72" cy="134.48" r="3.80" fill="#385b76"/>
<circle cx="1141.72" cy="139.24" r="3.80" fill="#395c76"/>
<circle cx="1141.72" cy="143.99" r="3.80" fill="#395c77"/>
<circle cx="1141.72" cy="148.75" r="3.80" fill="#3a5d77"/>
<circle cx="1141.72" cy="153.51" r="3.80" fill="#3b5d78"/>
<circle cx="1141.72" cy="158.26" r="3.80" fill="#3c5e78"/>
<circle cx="1141.72" cy="163.02" r="3.80" fill="#3d5f79"/>
<circle cx="1141.72" cy="167.78" r="3.80" fill="#3e5f79"/>
<circle cx="1141.72" cy="172.54" r="3.80" fill="#3e5f79"/>
<circle cx="1141.72" cy="177.29" r="3.80" fill="#3e6079"/>
<circle cx="1141.72" cy="182.05" r="3.80" fill="#3e6079"/>
<circle cx="1141.72" cy="186.81" r="3.80" fill="#3e6079"/>
<circle cx="1141.72" cy="191.56" r="3.80" fill="#3e6079"/>
<circle cx="1141.72" cy="196.32" r="3.80" fill="#3f6079"/>
<circle cx="1141.72" cy="201.08" r="3.80" fill="#3f6079"/>
<circle cx="1141.72" cy="205.84" r="3.80" fill="#3f607a"/>
<circle cx="1141.72" cy="210.59" r="3.80" fill="#3f607a"/>
<circle cx="1141.72" cy="215.35" r="3.80" fill="#3f607a"/>
<circle cx="1141.72" cy="220.11" r="3.80" fill="#3f607a"/>
<circle cx="1141.72" cy="224.86" r="3.80" fill="#3f607a"/>
<circle cx="1141.72" cy="229.62" r="3.80" fill="#3f607a"/>
<circle cx="1141.72" cy="234.38" r="3.80" fill="#3f607a"/>
<circle cx="1141.72" cy="239.14" r="3.80" fill="#3f607a"/>
<circle cx="1141.72" cy="243.89" r="3.80" fill="#40617a"/>
<circle cx="1141.72" cy="248.65" r="3.80" fill="#40617a"/>
<circle cx="1141.72" cy="253.41" r="3.80" fill="#40617a"/>
<circle cx="1141.72" cy="258.16" r="3.80" fill="#40617a"/>
<circle cx="1141.72" cy="262.92" r="3.80" fill="#40617a"/>
<circle cx="1141.72" cy="267.68" r="3.80" fill="#40617a"/>
<circle cx="1141.72" cy="272.44" r="3.80" fill="#41617b"/>
<circle cx="1141.72" cy="277.19" r="3.80" fill="#41617b"/>
<circle cx="1141.72" cy="281.95" r="3.80" fill="#41627b"/>
<circle cx="1141.72" cy="286.71" r="3.80" fill="#41627b"/>
<circle cx="1141.72" cy="291.46" r="3.80" fill="#42627b"/>
<circle cx="1141.72" cy="296.22" r="3.80" fill="#42627b"/>
<circle cx="1141.72" cy="300.98" r="3.80" fill="#42627b"/>
<circle cx="1141.72" cy="305.74" r="3.80" fill="#42627b"/>
<circle cx="1141.72" cy="310.49" r="3.80" fill="#43637c"/>
<circle cx="1141.72" cy="315.25" r="3.80" fill="#43637c"/>
<circle cx="1141.72" cy="320.01" r="3.80" fill="#43637c"/>
<circle cx="1141.72" cy="324.76" r="3.80" fill="#43637c"/>
<circle cx="1141.72" cy="329.52" r="3.80" fill="#43637c"/>
<circle cx="1141.72" cy="334.28" r="3.80" fill="#44637c"/>
<circle cx="1141.72" cy="339.04" r="3.80" fill="#44647c"/>
<circle cx="1141.72" cy="343.79" r="3.80" fill="#45647d"/>
<circle cx="1141.72" cy="348.55" r="3.80" fill="#45647d"/>
<circle cx="1141.72" cy="353.31" r="3.80" fill="#45647d"/>
<circle cx="1141.72" cy="358.06" r="3.80" fill="#46657d"/>
<circle cx="1141.72" cy="362.82" r="3.80" fill="#46657d"/>
<circle cx="1141.72" cy="367.58" r="3.80" fill="#47657e"/>
<circle cx="1141.72" cy="372.34" r="3.80" fill="#47667e"/>
<circle cx="1141.72" cy="377.09" r="3.80" fill="#48667e"/>
<circle cx="1141.72" cy="381.85" r="3.80" fill="#48667f"/>
<circle cx="1141.72" cy="386.61" r="3.80" fill="#49677f"/>
<circle cx="1141.72" cy="391.36" r="3.80" fill="#4a677f"/>
<circle cx="1141.72" cy="396.12" r="3.80" fill="#4a6880"/>
<circle cx="1179.12" cy="115.45" r="3.80" fill="#0a2341"/>
<circle cx="1179.12" cy="120.21" r="3.80" fill="#0a2341"/>
<circle cx="1179.12" cy="124.96" r="3.80" fill="#0f2b49"/>
<circle cx="1179.12" cy="129.72" r="3.80" fill="#102d4b"/>
<circle cx="1179.12" cy="134.48" r="3.80" fill="#163a58"/>
<circle cx="1179.12" cy="139.24" r="3.80" fill="#163a58"/>
<circle cx="1179.12" cy="143.99" r="3.80" fill="#163a58"/>
<circle cx="1179.12" cy="148.75" r="3.80" fill="#163a58"/>
<circle cx="1179.12" cy="153.51" r="3.80" fill="#1a4463"/>
<circle cx="1179.12" cy="158.26" r="3.80" fill="#1a4564"/>
<circle cx="1179.12" cy="163.02" r="3.80" fill="#1b4766"/>
<circle cx="1179.12" cy="167.78" r="3.80" fill="#224c6a"/>
<circle cx="1179.12" cy="172.54" r="3.80" fill="#234d6b"/>
<circle cx="1179.12" cy="177.29" r="3.80" fill="#244d6b"/>
<circle cx="1179.12" cy="182.05" r="3.80" fill="#254e6c"/>
<circle cx="1179.12" cy="186.81" r="3.80" fill="#264f6c"/>
<circle cx="1179.12" cy="191.56" r="3.80" fill="#274f6d"/>
<circle cx="1179.12" cy="196.32" r="3.80" fill="#28506d"/>
<circle cx="1179.12" cy="201.08" r="3.80" fill="#29516e"/>
<circle cx="1179.12" cy="205.84" r="3.80" fill="#29516e"/>
<circle cx="1179.12" cy="210.59" r="3.80" fill="#2a526e"/>
<circle cx="1179.12" cy="215.35" r="3.80" fill="#2b526f"/>
<circle cx="1179.12" cy="220.11" r="3.80" fill="#2b526f"/>
<circle cx="1179.12" cy="224.86" r="3.80" fill="#2c536f"/>
<circle cx="1179.12" cy="229.62" r="3.80" fill="#3a5d77"/>
<circle cx="1179.12" cy="234.38" r="3.80" fill="#3a5d77"/>
<circle cx="1179.12" cy="239.14" r="3.80" fill="#3b5d77"/>
<circle cx="1179.12" cy="243.89" r="3.80" fill="#3b5d78"/>
<circle cx="1179.12" cy="248.65" r="3.80" fill="#3b5d78"/>
<circle cx="1179.12" cy="253.41" r="3.80" fill="#3b5e78"/>
<circle cx="1179.12" cy="258.16" r="3.80" fill="#3c5e78"/>
<circle cx="1179.12" cy="262.92" r="3.80" fill="#3c5e78"/>
<circle cx="1179.12" cy="267.68" r="3.80" fill="#3c5e78"/>
<circle cx="1179.12" cy="272.44" r="3.80" fill="#3c5e78"/>
<circle cx="1179.12" cy="277.19" r="3.80" fill="#3d5e78"/>
<circle cx="1179.12" cy="281.95" r="3.80" fill="#3d5f79"/>
<circle cx="1179.12" cy="286.71" r="3.80" fill="#3d5f79"/>
<circle cx="1179.12" cy="291.46" r="3.80" fill="#3d5f79"/>
<circle cx="1179.12" cy="296.22" r="3.80" fill="#3e5f79"/>
<circle cx="1179.12" cy="300.98" r="3.80" fill="#3e5f79"/>
<circle cx="1179.12" cy="305.74" r="3.80" fill="#3e5f79"/>
<circle cx="1179.12" cy="310.49" r="3.80" fill="#3e5f79"/>
<circle cx="1179.12" cy="315.25" r="3.80" fill="#3e6079"/>
<circle cx="1179.12" cy="320.01" r="3.80" fill="#3e6079"/>
<circle cx="1179.12" cy="324.76" r="3.80" fill="#3e6079"/>
<circle cx="1179.12" cy="329.52" r="3.80" fill="#3e6079"/>
<circle cx="1179.12" cy="334.28" r="3.80" fill="#3f6079"/>
<circle cx="1179.12" cy="339.04" r="3.80" fill="#3f607a"/>
<circle cx="1179.12" cy="343.79" r="3.80" fill="#3f607a"/>
<circle cx="1179.12" cy="348.55" r="3.80" fill="#3f607a"/>
<circle cx="1179.12" cy="353.31" r="3.80" fill="#3f607a"/>
<circle cx="1179.12" cy="358.06" r="3.80" fill="#3f607a"/>
<circle cx="1179.12" cy="362.82" r="3.80" fill="#3f607a"/>
<circle cx="1179.12" cy="367.58" r="3.80" fill="#3f607a"/>
<circle cx="1179.12" cy="372.34" r="3.80" fill="#3f607a"/>
<circle cx="1179.12" cy="377.09" r="3.80" fill="#3f607a"/>
<circle cx="1179.12" cy="381.85" r="3.80" fill="#40607a"/>
<circle cx="1179.12" cy="386.61" r="3.80" fill="#40617a"/>
<circle cx="1179.12" cy="391.36" r="3.80" fill="#40617a"/>
<circle cx="1179.12" cy="396.12" r="3.80" fill="#40617a"/>
<circle cx="1228.22" cy="115.45" r="3.80" fill="#0a2341"/>
<circle cx="1228.22" cy="120.21" r="3.80" fill="#0a2341"/>
<circle cx="1228.22" cy="124.96" r="3.80" fill="#0a2341"/>
<circle cx="1228.22" cy="129.72" r="3.80" fill="#0a2341"/>
<circle cx="1228.22" cy="134.48" r="3.80" fill="#0a2341"/>
<circle cx="1228.22" cy="139.24" r="3.80" fill="#0a2341"/>
<circle cx="1228.22" cy="143.99" r="3.80" fill="#0a2341"/>
<circle cx="1228.22" cy="148.75" r="3.80" fill="#0a2341"/>
<circle cx="1228.22" cy="153.51" r="3.80" fill="#0a2341"/>
<circle cx="1228.22" cy="158.26" r="3.80" fill="#0a2341"/>
<circle cx="1228.22" cy="163.02" r="3.80" fill="#0a2341"/>
<circle cx="1228.22" cy="167.78" r="3.80" fill="#0a2341"/>
<circle cx="1228.22" cy="172.54" r="3.80" fill="#0a2341"/>
<circle cx="1228.22" cy="177.29" r="3.80" fill="#0a2341"/>
<circle cx="1228.22" cy="182.05" r="3.80" fill="#143755"/>
<circle cx="1228.22" cy="186.81" r="3.80" fill="#153857"/>
<circle cx="1228.22" cy="191.56" r="3.80" fill="#163a58"/>
<circle cx="1228.22" cy="196.32" r="3.80" fill="#3a5d77"/>
<circle cx="1228.22" cy="201.08" r="3.80" fill="#3a5d77"/>
<circle cx="1228.22" cy="205.84" r="3.80" fill="#3b5d77"/>
<circle cx="1228.22" cy="210.59" r="3.80" fill="#3b5d78"/>
<circle cx="1228.22" cy="215.35" r="3.80" fill="#3b5e78"/>
<circle cx="1228.22" cy="220.11" r="3.80" fill="#3c5e78"/>
<circle cx="1228.22" cy="224.86" r="3.80" fill="#3c5e78"/>
<circle cx="1228.22" cy="229.62" r="3.80" fill="#3c5e78"/>
<circle cx="1228.22" cy="234.38" r="3.80" fill="#3d5e78"/>
<circle cx="1228.22" cy="239.14" r="3.80" fill="#3d5f79"/>
<circle cx="1228.22" cy="243.89" r="3.80" fill="#3d5f79"/>
<circle cx="1228.22" cy="248.65" r="3.80" fill="#3e5f79"/>
<circle cx="1228.22" cy="253.41" r="3.80" fill="#3e5f79"/>
<circle cx="1228.22" cy="258.16" r="3.80" fill="#3e6079"/>
<circle cx="1228.22" cy="262.92" r="3.80" fill="#3e6079"/>
<circle cx="1228.22" cy="267.68" r="3.80" fill="#3f607a"/>
<circle cx="1228.22" cy="272.44" r="3.80" fill="#3f607a"/>
<circle cx="1228.22" cy="277.19" r="3.80" fill="#3f607a"/>
<circle cx="1228.22" cy="281.95" r="3.80" fill="#3f607a"/>
<circle cx="1228.22" cy="286.71" r="3.80" fill="#40617a"/>
<circle cx="1228.22" cy="291.46" r="3.80" fill="#40617a"/>
<circle cx="1228.22" cy="296.22" r="3.80" fill="#40617a"/>
<circle cx="1228.22" cy="300.98" r="3.80" fill="#40617a"/>
<circle cx="1228.22" cy="305.74" r="3.80" fill="#41617b"/>
<circle cx="1228.22" cy="310.49" r="3.80" fill="#41617b"/>
<circle cx="1228.22" cy="315.25" r="3.80" fill="#41627b"/>
<circle cx="1228.22" cy="320.01" r="3.80" fill="#41627b"/>
<circle cx="1228.22" cy="324.76" r="3.80" fill="#42627b"/>
<circle cx="1228.22" cy="329.52" r="3.80" fill="#42627b"/>
<circle cx="1228.22" cy="334.28" r="3.80" fill="#43637c"/>
<circle cx="1228.22" cy="339.04" r="3.80" fill="#43637c"/>
<circle cx="1228.22" cy="343.79" r="3.80" fill="#44637c"/>
<circle cx="1228.22" cy="348.55" r="3.80" fill="#44637c"/>
<circle cx="1228.22" cy="353.31" r="3.80" fill="#44647c"/>
<circle cx="1228.22" cy="358.06" r="3.80" fill="#45647d"/>
<circle cx="1228.22" cy="362.82" r="3.80" fill="#45647d"/>
<circle cx="1228.22" cy="367.58" r="3.80" fill="#46657d"/>
<circle cx="1228.22" cy="372.34" r="3.80" fill="#46657d"/>
<circle cx="1228.22" cy="377.09" r="3.80" fill="#47657e"/>
<circle cx="1228.22" cy="381.85" r="3.80" fill="#47667e"/>
<circle cx="1228.22" cy="386.61" r="3.80" fill="#48667e"/>
<circle cx="1277.42" cy="115.45" r="3.80" fill="#11304e"/>
<circle cx="1277.42" cy="120.21" r="3.80" fill="#0a2341"/>
<circle cx="1277.42" cy="124.96" r="3.80" fill="#0a2341"/>
<circle cx="1277.42" cy="129.72" r="3.80" fill="#0a2341"/>
<circle cx="1277.42" cy="134.48" r="3.80" fill="#0f2b49"/>
<circle cx="1277.42" cy="139.24" r="3.80" fill="#0f2c4a"/>
<circle cx="1277.42" cy="143.99" r="3.80" fill="#102d4b"/>
<circle cx="1277.42" cy="148.75" r="3.80" fill="#163a58"/>
<circle cx="1277.42" cy="153.51" r="3.80" fill="#163c5a"/>
<circle cx="1277.42" cy="158.26" r="3.80" fill="#173d5c"/>
<circle cx="1277.42" cy="163.02" r="3.80" fill="#1a4463"/>
<circle cx="1277.42" cy="167.78" r="3.80" fill="#1a4665"/>
<circle cx="1277.42" cy="172.54" r="3.80" fill="#1b4766"/>
<circle cx="1277.42" cy="177.29" r="3.80" fill="#1d4867"/>
<circle cx="1277.42" cy="182.05" r="3.80" fill="#1e4968"/>
<circle cx="1277.42" cy="186.81" r="3.80" fill="#204a69"/>
<circle cx="1277.42" cy="191.56" r="3.80" fill="#2c536f"/>
<circle cx="1277.42" cy="196.32" r="3.80" fill="#2d5470"/>
<circle cx="1277.42" cy="201.08" r="3.80" fill="#2f5571"/>
<circle cx="1277.42" cy="205.84" r="3.80" fill="#315672"/>
<circle cx="1277.42" cy="210.59" r="3.80" fill="#325773"/>
<circle cx="1277.42" cy="215.35" r="3.80" fill="#345974"/>
<circle cx="1277.42" cy="220.11" r="3.80" fill="#365a75"/>
<circle cx="1277.42" cy="224.86" r="3.80" fill="#375b75"/>
<circle cx="1277.42" cy="229.62" r="3.80" fill="#385b76"/>
<circle cx="1277.42" cy="234.38" r="3.80" fill="#395c76"/>
<circle cx="1277.42" cy="239.14" r="3.80" fill="#395c77"/>
<circle cx="1277.42" cy="243.89" r="3.80" fill="#3a5c77"/>
<circle cx="1277.42" cy="248.65" r="3.80" fill="#3a5d77"/>
<circle cx="1277.42" cy="253.41" r="3.80" fill="#3b5d77"/>
<circle cx="1277.42" cy="258.16" r="3.80" fill="#3b5e78"/>
<circle cx="1277.42" cy="262.92" r="3.80" fill="#3c5e78"/>
<circle cx="1277.42" cy="267.68" r="3.80" fill="#3c5e78"/>
<circle cx="1277.42" cy="272.44" r="3.80" fill="#3d5f78"/>
<circle cx="1277.42" cy="277.19" r="3.80" fill="#3d5f79"/>
<circle cx="1277.42" cy="281.95" r="3.80" fill="#3e5f79"/>
<circle cx="1277.42" cy="286.71" r="3.80" fill="#3e6079"/>
<circle cx="1277.42" cy="291.46" r="3.80" fill="#3f607a"/>
<circle cx="1277.42" cy="296.22" r="3.80" fill="#3f607a"/>
<circle cx="1277.42" cy="300.98" r="3.80" fill="#40617a"/>
<circle cx="1277.42" cy="305.74" r="3.80" fill="#41627b"/>
<circle cx="1277.42" cy="310.49" r="3.80" fill="#43637c"/>
<circle cx="1277.42" cy="315.25" r="3.80" fill="#44647c"/>
<circle cx="1277.42" cy="320.01" r="3.80" fill="#46657d"/>
<circle cx="1277.42" cy="324.76" r="3.80" fill="#48667e"/>
<circle cx="1277.42" cy="329.52" r="3.80" fill="#49677f"/>
<circle cx="1277.42" cy="334.28" r="3.80" fill="#4a677f"/>
<circle cx="1277.42" cy="339.04" r="3.80" fill="#4b6880"/>
<circle cx="1277.42" cy="343.79" r="3.80" fill="#4c6980"/>
<circle cx="1277.42" cy="348.55" r="3.80" fill="#4d6a81"/>
<circle cx="1277.42" cy="353.31" r="3.80" fill="#4e6b82"/>
<circle cx="1277.42" cy="358.06" r="3.80" fill="#4f6b82"/>
<circle cx="1277.42" cy="362.82" r="3.80" fill="#516c83"/>
<circle cx="1277.42" cy="367.58" r="3.80" fill="#526d83"/>
<circle cx="1277.42" cy="372.34" r="3.80" fill="#536e84"/>
<circle cx="1277.42" cy="377.09" r="3.80" fill="#546f85"/>
<circle cx="1277.42" cy="381.85" r="3.80" fill="#556f85"/>
<circle cx="1326.42" cy="115.45" r="3.80" fill="#0a2341"/>
<circle cx="1326.42" cy="120.21" r="3.80" fill="#0a2341"/>
<circle cx="1326.42" cy="124.96" r="3.80" fill="#0a2341"/>
<circle cx="1326.42" cy="129.72" r="3.80" fill="#0a2341"/>
<circle cx="1326.42" cy="134.48" r="3.80" fill="#0a2341"/>
<circle cx="1326.42" cy="139.24" r="3.80" fill="#0a2341"/>
<circle cx="1326.42" cy="143.99" r="3.80" fill="#0f2b49"/>
<circle cx="1326.42" cy="148.75" r="3.80" fill="#0f2c4a"/>
<circle cx="1326.42" cy="153.51" r="3.80" fill="#0f2c4a"/>
<circle cx="1326.42" cy="158.26" r="3.80" fill="#102c4a"/>
<circle cx="1326.42" cy="163.02" r="3.80" fill="#102d4b"/>
<circle cx="1326.42" cy="167.78" r="3.80" fill="#163a58"/>
<circle cx="1326.42" cy="172.54" r="3.80" fill="#163a58"/>
<circle cx="1326.42" cy="177.29" r="3.80" fill="#163a58"/>
<circle cx="1326.42" cy="182.05" r="3.80" fill="#163a58"/>
<circle cx="1326.42" cy="186.81" r="3.80" fill="#1b4766"/>
<circle cx="1326.42" cy="191.56" r="3.80" fill="#2c536f"/>
<circle cx="1326.42" cy="196.32" r="3.80" fill="#2d5470"/>
<circle cx="1326.42" cy="201.08" r="3.80" fill="#2e5471"/>
<circle cx="1326.42" cy="205.84" r="3.80" fill="#2f5571"/>
<circle cx="1326.42" cy="210.59" r="3.80" fill="#305672"/>
<circle cx="1326.42" cy="215.35" r="3.80" fill="#315772"/>
<circle cx="1326.42" cy="220.11" r="3.80" fill="#315672"/>
<circle cx="1326.42" cy="224.86" r="3.80" fill="#305672"/>
<circle cx="1326.42" cy="229.62" r="3.80" fill="#305672"/>
<circle cx="1326.42" cy="234.38" r="3.80" fill="#305571"/>
<circle cx="1326.42" cy="239.14" r="3.80" fill="#2f5571"/>
<circle cx="1326.42" cy="243.89" r="3.80" fill="#2f5571"/>
<circle cx="1326.42" cy="248.65" r="3.80" fill="#2e5571"/>
<circle cx="1326.42" cy="253.41" r="3.80" fill="#2e5471"/>
<circle cx="1326.42" cy="258.16" r="3.80" fill="#2e5470"/>
<circle cx="1326.42" cy="262.92" r="3.80" fill="#2d5470"/>
<circle cx="1326.42" cy="267.68" r="3.80" fill="#2d5470"/>
<circle cx="1326.42" cy="272.44" r="3.80" fill="#2d5370"/>
<circle cx="1326.42" cy="277.19" r="3.80" fill="#2c5370"/>
<circle cx="1326.42" cy="281.95" r="3.80" fill="#2c536f"/>
<circle cx="1326.42" cy="286.71" r="3.80" fill="#2e5471"/>
<circle cx="1326.42" cy="291.46" r="3.80" fill="#305672"/>
<circle cx="1326.42" cy="296.22" r="3.80" fill="#325773"/>
<circle cx="1326.42" cy="300.98" r="3.80" fill="#355974"/>
<circle cx="1326.42" cy="305.74" r="3.80" fill="#375a75"/>
<circle cx="1326.42" cy="310.49" r="3.80" fill="#385b76"/>
<circle cx="1326.42" cy="315.25" r="3.80" fill="#3b5d77"/>
<circle cx="1326.42" cy="320.01" r="3.80" fill="#3d5f79"/>
<circle cx="1326.42" cy="324.76" r="3.80" fill="#40617a"/>
<circle cx="1326.42" cy="329.52" r="3.80" fill="#42627b"/>
<circle cx="1326.42" cy="334.28" r="3.80" fill="#45647d"/>
<circle cx="1326.42" cy="339.04" r="3.80" fill="#48667e"/>
<circle cx="1326.42" cy="343.79" r="3.80" fill="#4a6880"/>
<circle cx="1326.42" cy="348.55" r="3.80" fill="#4d6a81"/>
<circle cx="1326.42" cy="353.31" r="3.80" fill="#506b82"/>
<circle cx="1326.42" cy="358.06" r="3.80" fill="#526d84"/>
<circle cx="1326.42" cy="362.82" r="3.80" fill="#556f85"/>
<circle cx="1326.42" cy="367.58" r="3.80" fill="#587187"/>
<circle cx="1326.42" cy="372.34" r="3.80" fill="#5a7388"/>
<circle cx="1326.42" cy="377.09" r="3.80" fill="#5b7489"/>
<circle cx="1326.42" cy="381.85" r="3.80" fill="#5c7489"/>
<circle cx="1326.42" cy="386.61" r="3.80" fill="#5c7589"/>
<circle cx="1326.42" cy="391.36" r="3.80" fill="#5d758a"/>
<circle cx="1326.42" cy="396.12" r="3.80" fill="#5d758a"/>
<circle cx="1326.42" cy="400.88" r="3.80" fill="#5e768a"/>
<circle cx="1326.42" cy="405.64" r="3.80" fill="#5f768b"/>
<circle cx="1326.42" cy="410.39" r="3.80" fill="#5f778b"/>
<circle cx="1326.42" cy="415.15" r="3.80" fill="#60778b"/>
<circle cx="1376.31" cy="115.45" r="3.80" fill="#0a2341"/>
<circle cx="1376.31" cy="120.21" r="3.80" fill="#0a2341"/>
<circle cx="1376.31" cy="124.96" r="3.80" fill="#0a2341"/>
<circle cx="1376.31" cy="129.72" r="3.80" fill="#0a2341"/>
<circle cx="1376.31" cy="134.48" r="3.80" fill="#0a2341"/>
<circle cx="1376.31" cy="139.24" r="3.80" fill="#0a2341"/>
<circle cx="1376.31" cy="143.99" r="3.80" fill="#0a2341"/>
<circle cx="1376.31" cy="148.75" r="3.80" fill="#0a2341"/>
<circle cx="1376.31" cy="153.51" r="3.80" fill="#0a2341"/>
<circle cx="1376.31" cy="158.26" r="3.80" fill="#0a2341"/>
<circle cx="1376.31" cy="163.02" r="3.80" fill="#0a2341"/>
<circle cx="1376.31" cy="167.78" r="3.80" fill="#0a2341"/>
<circle cx="1376.31" cy="172.54" r="3.80" fill="#0a2341"/>
<circle cx="1376.31" cy="177.29" r="3.80" fill="#0e2947"/>
<circle cx="1376.31" cy="182.05" r="3.80" fill="#0e2947"/>
<circle cx="1376.31" cy="186.81" r="3.80" fill="#0e2a48"/>
<circle cx="1376.31" cy="191.56" r="3.80" fill="#0e2a48"/>
<circle cx="1376.31" cy="196.32" r="3.80" fill="#0f2b49"/>
<circle cx="1376.31" cy="201.08" r="3.80" fill="#0f2b49"/>
<circle cx="1376.31" cy="205.84" r="3.80" fill="#143755"/>
<circle cx="1376.31" cy="210.59" r="3.80" fill="#153856"/>
<circle cx="1376.31" cy="215.35" r="3.80" fill="#153957"/>
<circle cx="1376.31" cy="220.11" r="3.80" fill="#163a58"/>
<circle cx="1376.31" cy="224.86" r="3.80" fill="#224c6a"/>
<circle cx="1376.31" cy="229.62" r="3.80" fill="#254e6b"/>
<circle cx="1376.31" cy="234.38" r="3.80" fill="#274f6d"/>
<circle cx="1376.31" cy="239.14" r="3.80" fill="#29516e"/>
<circle cx="1376.31" cy="243.89" r="3.80" fill="#2c536f"/>
<circle cx="1376.31" cy="248.65" r="3.80" fill="#2e5571"/>
<circle cx="1376.31" cy="253.41" r="3.80" fill="#315772"/>
<circle cx="1376.31" cy="258.16" r="3.80" fill="#345874"/>
<circle cx="1376.31" cy="262.92" r="3.80" fill="#365a75"/>
<circle cx="1376.31" cy="267.68" r="3.80" fill="#385b76"/>
<circle cx="1376.31" cy="272.44" r="3.80" fill="#3a5d77"/>
<circle cx="1376.31" cy="277.19" r="3.80" fill="#3c5e78"/>
<circle cx="1376.31" cy="281.95" r="3.80" fill="#3e5f79"/>
<circle cx="1376.31" cy="286.71" r="3.80" fill="#40617a"/>
<circle cx="1376.31" cy="291.46" r="3.80" fill="#42627b"/>
<circle cx="1376.31" cy="296.22" r="3.80" fill="#44637c"/>
<circle cx="1376.31" cy="300.98" r="3.80" fill="#46657d"/>
<circle cx="1376.31" cy="305.74" r="3.80" fill="#48667e"/>
<circle cx="1376.31" cy="310.49" r="3.80" fill="#4a6880"/>
<circle cx="1376.31" cy="315.25" r="3.80" fill="#4d6a81"/>
<circle cx="1376.31" cy="320.01" r="3.80" fill="#506b82"/>
<circle cx="1376.31" cy="324.76" r="3.80" fill="#526d84"/>
<circle cx="1376.31" cy="329.52" r="3.80" fill="#556f85"/>
<circle cx="1376.31" cy="334.28" r="3.80" fill="#567086"/>
<circle cx="1376.31" cy="339.04" r="3.80" fill="#587187"/>
<circle cx="1376.31" cy="343.79" r="3.80" fill="#597288"/>
<circle cx="1376.31" cy="348.55" r="3.80" fill="#5a7388"/>
<circle cx="1376.31" cy="353.31" r="3.80" fill="#5c7489"/>
<circle cx="1376.31" cy="358.06" r="3.80" fill="#5d758a"/>
<circle cx="1376.31" cy="362.82" r="3.80" fill="#5e758a"/>
<circle cx="1376.31" cy="367.58" r="3.80" fill="#5e768a"/>
<circle cx="1376.31" cy="372.34" r="3.80" fill="#5e768b"/>
<circle cx="1376.31" cy="377.09" r="3.80" fill="#5f768b"/>
<circle cx="1376.31" cy="381.85" r="3.80" fill="#5f768b"/>
<circle cx="1376.31" cy="386.61" r="3.80" fill="#5f778b"/>
<circle cx="1376.31" cy="391.36" r="3.80" fill="#60778b"/>
<circle cx="1376.31" cy="396.12" r="3.80" fill="#60778c"/>
<circle cx="1376.31" cy="400.88" r="3.80" fill="#60788c"/>
<circle cx="1376.31" cy="405.64" r="3.80" fill="#61788c"/>
<circle cx="1376.31" cy="410.39" r="3.80" fill="#61788c"/>
<circle cx="1376.31" cy="415.15" r="3.80" fill="#61788c"/>
<circle cx="1376.31" cy="419.91" r="3.80" fill="#62798d"/>
<circle cx="1376.31" cy="424.66" r="3.80" fill="#62798d"/>
<circle cx="1376.31" cy="429.42" r="3.80" fill="#63798d"/>
<circle cx="1376.31" cy="434.18" r="3.80" fill="#63798d"/>
<circle cx="1376.31" cy="438.94" r="3.80" fill="#637a8d"/>
<circle cx="1376.31" cy="443.69" r="3.80" fill="#647a8e"/>
<circle cx="1376.31" cy="448.45" r="3.80" fill="#647a8e"/>
<circle cx="1424.92" cy="115.45" r="3.80" fill="#0a2341"/>
<circle cx="1424.92" cy="120.21" r="3.80" fill="#163a58"/>
<circle cx="1424.92" cy="124.96" r="3.80" fill="#11304e"/>
<circle cx="1424.92" cy="129.72" r="3.80" fill="#254e6b"/>
<circle cx="1424.92" cy="134.48" r="3.80" fill="#133452"/>
<circle cx="1424.92" cy="139.24" r="3.80" fill="#163a58"/>
<circle cx="1424.92" cy="143.99" r="3.80" fill="#133452"/>
<circle cx="1424.92" cy="148.75" r="3.80" fill="#274f6d"/>
<circle cx="1424.92" cy="153.51" r="3.80" fill="#1b4766"/>
<circle cx="1424.92" cy="158.26" r="3.80" fill="#1b4766"/>
<circle cx="1424.92" cy="163.02" r="3.80" fill="#1b4766"/>
<circle cx="1424.92" cy="167.78" r="3.80" fill="#1b4766"/>
<circle cx="1424.92" cy="172.54" r="3.80" fill="#1b4766"/>
<circle cx="1424.92" cy="177.29" r="3.80" fill="#1b4766"/>
<circle cx="1424.92" cy="182.05" r="3.80" fill="#1b4766"/>
<circle cx="1424.92" cy="186.81" r="3.80" fill="#1b4766"/>
<circle cx="1424.92" cy="191.56" r="3.80" fill="#1b4766"/>
<circle cx="1424.92" cy="196.32" r="3.80" fill="#1b4766"/>
<circle cx="1424.92" cy="201.08" r="3.80" fill="#1b4766"/>
<circle cx="1424.92" cy="205.84" r="3.80" fill="#1b4766"/>
<circle cx="1424.92" cy="210.59" r="3.80" fill="#163a58"/>
<circle cx="1424.92" cy="215.35" r="3.80" fill="#163a58"/>
<circle cx="1424.92" cy="220.11" r="3.80" fill="#163a58"/>
<circle cx="1424.92" cy="224.86" r="3.80" fill="#163a58"/>
<circle cx="1424.92" cy="229.62" r="3.80" fill="#224c6a"/>
<circle cx="1424.92" cy="234.38" r="3.80" fill="#224c6a"/>
<circle cx="1424.92" cy="239.14" r="3.80" fill="#234c6a"/>
<circle cx="1424.92" cy="243.89" r="3.80" fill="#234c6a"/>
<circle cx="1424.92" cy="248.65" r="3.80" fill="#234d6a"/>
<circle cx="1424.92" cy="253.41" r="3.80" fill="#234d6b"/>
<circle cx="1424.92" cy="258.16" r="3.80" fill="#234d6b"/>
<circle cx="1424.92" cy="262.92" r="3.80" fill="#244d6b"/>
<circle cx="1424.92" cy="267.68" r="3.80" fill="#244d6b"/>
<circle cx="1424.92" cy="272.44" r="3.80" fill="#244d6b"/>
<circle cx="1424.92" cy="277.19" r="3.80" fill="#244d6b"/>
<circle cx="1424.92" cy="281.95" r="3.80" fill="#244e6b"/>
<circle cx="1424.92" cy="286.71" r="3.80" fill="#244e6b"/>
<circle cx="1424.92" cy="291.46" r="3.80" fill="#254e6b"/>
<circle cx="1424.92" cy="296.22" r="3.80" fill="#2e5571"/>
<circle cx="1424.92" cy="300.98" r="3.80" fill="#2f5571"/>
<circle cx="1424.92" cy="305.74" r="3.80" fill="#2f5571"/>
<circle cx="1424.92" cy="310.49" r="3.80" fill="#2f5571"/>
<circle cx="1424.92" cy="315.25" r="3.80" fill="#2f5571"/>
<circle cx="1424.92" cy="320.01" r="3.80" fill="#305571"/>
<circle cx="1424.92" cy="324.76" r="3.80" fill="#305672"/>
<circle cx="1424.92" cy="329.52" r="3.80" fill="#305672"/>
<circle cx="1424.92" cy="334.28" r="3.80" fill="#305672"/>
<circle cx="1424.92" cy="339.04" r="3.80" fill="#305672"/>
<circle cx="1424.92" cy="343.79" r="3.80" fill="#315672"/>
<circle cx="1424.92" cy="348.55" r="3.80" fill="#315672"/>
<circle cx="1424.92" cy="353.31" r="3.80" fill="#315772"/>
<circle cx="1424.92" cy="358.06" r="3.80" fill="#254e6b"/>
<circle cx="1424.92" cy="362.82" r="3.80" fill="#254e6b"/>
<circle cx="1424.92" cy="367.58" r="3.80" fill="#254e6b"/>
<circle cx="1424.92" cy="372.34" r="3.80" fill="#2c536f"/>
<circle cx="1424.92" cy="377.09" r="3.80" fill="#2d5370"/>
<circle cx="1424.92" cy="381.85" r="3.80" fill="#2e5470"/>
<circle cx="1424.92" cy="386.61" r="3.80" fill="#2e5571"/>
<circle cx="1424.92" cy="391.36" r="3.80" fill="#2f5571"/>
<circle cx="1424.92" cy="396.12" r="3.80" fill="#305672"/>
<circle cx="1424.92" cy="400.88" r="3.80" fill="#315772"/>
<circle cx="1475.28" cy="115.45" r="3.80" fill="#133452"/>
<circle cx="1475.28" cy="120.21" r="3.80" fill="#1a4463"/>
<circle cx="1475.28" cy="124.96" r="3.80" fill="#1a4564"/>
<circle cx="1475.28" cy="129.72" r="3.80" fill="#1b4665"/>
<circle cx="1475.28" cy="134.48" r="3.80" fill="#1b4766"/>
<circle cx="1475.28" cy="139.24" r="3.80" fill="#1c4867"/>
<circle cx="1475.28" cy="143.99" r="3.80" fill="#1d4967"/>
<circle cx="1475.28" cy="148.75" r="3.80" fill="#1d4967"/>
<circle cx="1475.28" cy="153.51" r="3.80" fill="#1d4867"/>
<circle cx="1475.28" cy="158.26" r="3.80" fill="#1d4867"/>
<circle cx="1475.28" cy="163.02" r="3.80" fill="#1d4867"/>
<circle cx="1475.28" cy="167.78" r="3.80" fill="#1d4867"/>
<circle cx="1475.28" cy="172.54" r="3.80" fill="#1c4867"/>
<circle cx="1475.28" cy="177.29" r="3.80" fill="#1c4867"/>
<circle cx="1475.28" cy="182.05" r="3.80" fill="#1c4867"/>
<circle cx="1475.28" cy="186.81" r="3.80" fill="#1c4867"/>
<circle cx="1475.28" cy="191.56" r="3.80" fill="#1c4866"/>
<circle cx="1475.28" cy="196.32" r="3.80" fill="#1c4766"/>
<circle cx="1475.28" cy="201.08" r="3.80" fill="#1b4766"/>
<circle cx="1475.28" cy="205.84" r="3.80" fill="#1b4766"/>
<circle cx="1475.28" cy="210.59" r="3.80" fill="#1b4766"/>
<circle cx="1475.28" cy="215.35" r="3.80" fill="#1b4766"/>
<circle cx="1475.28" cy="220.11" r="3.80" fill="#173d5c"/>
<circle cx="1475.28" cy="224.86" r="3.80" fill="#173d5c"/>
<circle cx="1475.28" cy="229.62" r="3.80" fill="#173d5c"/>
<circle cx="1475.28" cy="234.38" r="3.80" fill="#2c536f"/>
<circle cx="1475.28" cy="239.14" r="3.80" fill="#2d5370"/>
<circle cx="1475.28" cy="243.89" r="3.80" fill="#2d5470"/>
<circle cx="1475.28" cy="248.65" r="3.80" fill="#2e5470"/>
<circle cx="1475.28" cy="253.41" r="3.80" fill="#2e5571"/>
<circle cx="1475.28" cy="258.16" r="3.80" fill="#2f5571"/>
<circle cx="1475.28" cy="262.92" r="3.80" fill="#305672"/>
<circle cx="1475.28" cy="267.68" r="3.80" fill="#305672"/>
<circle cx="1475.28" cy="272.44" r="3.80" fill="#315772"/>
<circle cx="1475.28" cy="277.19" r="3.80" fill="#3a5d77"/>
<circle cx="1475.28" cy="281.95" r="3.80" fill="#3a5d77"/>
<circle cx="1475.28" cy="286.71" r="3.80" fill="#3b5d77"/>
<circle cx="1475.28" cy="291.46" r="3.80" fill="#3b5d78"/>
<circle cx="1475.28" cy="296.22" r="3.80" fill="#3b5e78"/>
<circle cx="1475.28" cy="300.98" r="3.80" fill="#3c5e78"/>
<circle cx="1475.28" cy="305.74" r="3.80" fill="#3c5e78"/>
<circle cx="1475.28" cy="310.49" r="3.80" fill="#3c5e78"/>
<circle cx="1475.28" cy="315.25" r="3.80" fill="#3d5f79"/>
<circle cx="1475.28" cy="320.01" r="3.80" fill="#3d5f79"/>
<circle cx="1475.28" cy="324.76" r="3.80" fill="#3e5f79"/>
<circle cx="1475.28" cy="329.52" r="3.80" fill="#3e5f79"/>
</g>
<rect x="1034.50" y="115.50" width="462.00" height="333.00" fill="none" stroke="#000" stroke-width="1.11"/>
<line x1="1055.50" x2="1055.50" y1="448.50" y2="453.80" stroke="#000" stroke-width="1.11"/>
<text x="1055.50" y="473.20" font-size="19.44" text-anchor="middle">0</text>
<line x1="1162.50" x2="1162.50" y1="448.50" y2="453.80" stroke="#000" stroke-width="1.11"/>
<text x="1162.50" y="473.20" font-size="19.44" text-anchor="middle">1</text>
<line x1="1269.50" x2="1269.50" y1="448.50" y2="453.80" stroke="#000" stroke-width="1.11"/>
<text x="1269.50" y="473.20" font-size="19.44" text-anchor="middle">2</text>
<line x1="1375.50" x2="1375.50" y1="448.50" y2="453.80" stroke="#000" stroke-width="1.11"/>
<text x="1375.50" y="473.20" font-size="19.44" text-anchor="middle">3</text>
<line x1="1482.50" x2="1482.50" y1="448.50" y2="453.80" stroke="#000" stroke-width="1.11"/>
<text x="1482.50" y="473.20" font-size="19.44" text-anchor="middle">4</text>
<text x="1265.05" y="496.60" font-size="19.44" text-anchor="middle">along-transect distance [km]</text>
<line x1="1029.10" x2="1034.50" y1="158.50" y2="158.50" stroke="#000" stroke-width="1.11"/>
<line x1="1029.10" x2="1034.50" y1="205.50" y2="205.50" stroke="#000" stroke-width="1.11"/>
<line x1="1029.10" x2="1034.50" y1="253.50" y2="253.50" stroke="#000" stroke-width="1.11"/>
<line x1="1029.10" x2="1034.50" y1="300.50" y2="300.50" stroke="#000" stroke-width="1.11"/>
<line x1="1029.10" x2="1034.50" y1="348.50" y2="348.50" stroke="#000" stroke-width="1.11"/>
<line x1="1029.10" x2="1034.50" y1="396.50" y2="396.50" stroke="#000" stroke-width="1.11"/>
<line x1="1029.10" x2="1034.50" y1="443.50" y2="443.50" stroke="#000" stroke-width="1.11"/>
<text transform="translate(18.40,281.95) rotate(-90)" font-size="19.44" text-anchor="middle">Depth [m]</text>
<rect x="314.50" y="521.50" width="470.00" height="24.00" fill="url(#gh)" stroke="#000" stroke-width="1.11"/>
<line x1="413.50" x2="413.50" y1="545.50" y2="550.80" stroke="#000" stroke-width="1.11"/>
<text x="413.50" y="569.80" font-size="19.44" text-anchor="middle">31.0</text>
<line x1="512.60" x2="512.60" y1="545.50" y2="550.80" stroke="#000" stroke-width="1.11"/>
<text x="512.60" y="569.80" font-size="19.44" text-anchor="middle">31.2</text>
<line x1="611.70" x2="611.70" y1="545.50" y2="550.80" stroke="#000" stroke-width="1.11"/>
<text x="611.70" y="569.80" font-size="19.44" text-anchor="middle">31.4</text>
<line x1="710.40" x2="710.40" y1="545.50" y2="550.80" stroke="#000" stroke-width="1.11"/>
<text x="710.40" y="569.80" font-size="19.44" text-anchor="middle">31.6</text>
<text x="549.50" y="594.10" font-size="19.44" text-anchor="middle">Sea water salinity [psu]</text>
<rect x="1034.50" y="521.50" width="462.00" height="23.00" fill="url(#gd)" stroke="#000" stroke-width="1.11"/>
<line x1="1144.30" x2="1144.30" y1="544.50" y2="549.80" stroke="#000" stroke-width="1.11"/>
<text x="1144.30" y="568.80" font-size="19.44" text-anchor="middle">−0.5</text>
<line x1="1265.30" x2="1265.30" y1="544.50" y2="549.80" stroke="#000" stroke-width="1.11"/>
<text x="1265.30" y="568.80" font-size="19.44" text-anchor="middle">0.0</text>
<line x1="1385.90" x2="1385.90" y1="544.50" y2="549.80" stroke="#000" stroke-width="1.11"/>
<text x="1385.90" y="568.80" font-size="19.44" text-anchor="middle">0.5</text>
<text x="1265.50" y="593.10" font-size="19.44" text-anchor="middle">Sea water salinity [psu] difference</text>
</svg></body></html>
